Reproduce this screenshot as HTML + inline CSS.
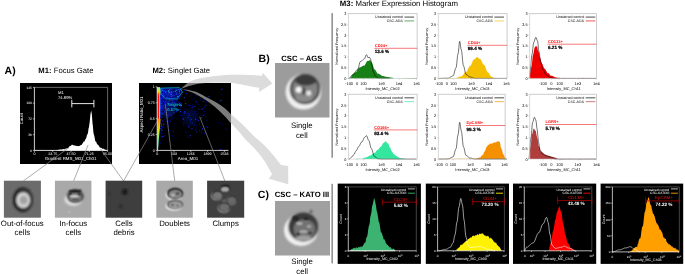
<!DOCTYPE html>
<html><head><meta charset="utf-8"><style>
html,body{margin:0;padding:0;background:#fff;}
body{width:685px;height:274px;overflow:hidden;}
svg{display:block;font-family:"Liberation Sans", Arial, sans-serif;text-rendering:geometricPrecision;}
</style></head><body>
<svg width="685" height="274" viewBox="0 0 685 274">
<defs><filter id="b1" x="-20%" y="-20%" width="140%" height="140%"><feGaussianBlur stdDeviation="1"/></filter><filter id="b05" x="-20%" y="-20%" width="140%" height="140%"><feGaussianBlur stdDeviation="0.5"/></filter><filter id="b065" x="-30%" y="-30%" width="160%" height="160%"><feGaussianBlur stdDeviation="0.65"/></filter><filter id="cm" x="-30%" y="-30%" width="160%" height="160%"><feConvolveMatrix order="3" kernelMatrix="1 2 1 2 4 2 1 2 1" divisor="16" edgeMode="none"/></filter><filter id="b08" x="-30%" y="-30%" width="160%" height="160%"><feGaussianBlur stdDeviation="0.85"/></filter><filter id="b2" x="-30%" y="-30%" width="160%" height="160%"><feGaussianBlur stdDeviation="2"/></filter><radialGradient id="oof" cx="0.5" cy="0.5" r="0.5"><stop offset="0" stop-color="#c8c8c8"/><stop offset="0.45" stop-color="#d6d6d6"/><stop offset="0.62" stop-color="#9a9a9a"/><stop offset="0.78" stop-color="#262626"/><stop offset="0.9" stop-color="#404040"/><stop offset="1" stop-color="#6b6b6b"/></radialGradient><clipPath id="cB"><rect x="275" y="63" width="54.5" height="54.5"/></clipPath><clipPath id="cC"><rect x="275" y="201" width="55" height="54.5"/></clipPath></defs>
<text x="4.60" y="73.80" font-size="10.5" text-anchor="start" font-weight="bold" fill="#000" >A)</text>
<text x="38.3" y="73.1" font-size="7.7"><tspan font-weight="bold">M1:</tspan> Focus Gate</text>
<text x="152.4" y="73.1" font-size="7.7"><tspan font-weight="bold">M2:</tspan> Singlet Gate</text>
<rect x="20.00" y="83.00" width="92.00" height="81.00" fill="#000" />
<line x1="34.40" y1="87.40" x2="107.60" y2="87.40" stroke="#aaa" stroke-width="0.6" />
<line x1="107.60" y1="87.40" x2="107.60" y2="150.40" stroke="#aaa" stroke-width="0.6" />
<line x1="34.40" y1="87.40" x2="34.40" y2="150.40" stroke="#fff" stroke-width="0.8" />
<line x1="34.40" y1="150.40" x2="107.60" y2="150.40" stroke="#fff" stroke-width="0.8" />
<line x1="32.90" y1="87.40" x2="34.40" y2="87.40" stroke="#fff" stroke-width="0.6" />
<text x="31.90" y="88.60" font-size="3.3" text-anchor="end" fill="#fff" >145</text>
<line x1="32.90" y1="103.20" x2="34.40" y2="103.20" stroke="#fff" stroke-width="0.6" />
<text x="31.90" y="104.40" font-size="3.3" text-anchor="end" fill="#fff" >109</text>
<line x1="32.90" y1="118.90" x2="34.40" y2="118.90" stroke="#fff" stroke-width="0.6" />
<text x="31.90" y="120.10" font-size="3.3" text-anchor="end" fill="#fff" >72</text>
<line x1="32.90" y1="134.70" x2="34.40" y2="134.70" stroke="#fff" stroke-width="0.6" />
<text x="31.90" y="135.90" font-size="3.3" text-anchor="end" fill="#fff" >36</text>
<line x1="32.90" y1="150.40" x2="34.40" y2="150.40" stroke="#fff" stroke-width="0.6" />
<text x="31.90" y="151.60" font-size="3.3" text-anchor="end" fill="#fff" >0</text>
<line x1="34.40" y1="150.40" x2="34.40" y2="151.90" stroke="#fff" stroke-width="0.6" />
<text x="34.40" y="155.40" font-size="3.6" text-anchor="middle" fill="#fff" >0</text>
<line x1="52.70" y1="150.40" x2="52.70" y2="151.90" stroke="#fff" stroke-width="0.6" />
<text x="52.70" y="155.40" font-size="3.6" text-anchor="middle" fill="#fff" >23.75</text>
<line x1="71.00" y1="150.40" x2="71.00" y2="151.90" stroke="#fff" stroke-width="0.6" />
<text x="71.00" y="155.40" font-size="3.6" text-anchor="middle" fill="#fff" >47.50</text>
<line x1="89.30" y1="150.40" x2="89.30" y2="151.90" stroke="#fff" stroke-width="0.6" />
<text x="89.30" y="155.40" font-size="3.6" text-anchor="middle" fill="#fff" >71.25</text>
<line x1="107.60" y1="150.40" x2="107.60" y2="151.90" stroke="#fff" stroke-width="0.6" />
<text x="107.60" y="155.40" font-size="3.6" text-anchor="middle" fill="#fff" >95.00</text>
<text x="70.50" y="159.60" font-size="4.4" text-anchor="middle" fill="#fff" >Gradient RMS_M01_Ch01</text>
<text x="23.00" y="118.60" font-size="4.2" text-anchor="middle" fill="#fff" transform="rotate(-90 23.0 118.6)">Count</text>
<polygon points="34.40,150.40 34.40,150.22 34.80,150.43 35.21,150.31 35.61,150.47 36.02,150.48 36.42,150.09 36.82,150.05 37.23,150.63 37.63,150.22 38.04,150.20 38.44,150.73 38.84,150.36 39.25,150.61 39.65,150.35 40.05,150.46 40.46,150.12 40.86,150.45 41.27,150.61 41.67,150.36 42.07,150.51 42.48,150.45 42.88,150.02 43.29,150.50 43.69,150.38 44.09,150.17 44.50,149.97 44.90,150.55 45.31,150.27 45.71,150.44 46.11,150.54 46.52,150.42 46.92,150.56 47.33,150.19 47.73,150.47 48.13,150.21 48.54,150.55 48.94,150.50 49.35,149.95 49.75,149.98 50.15,150.03 50.56,150.55 50.96,150.17 51.36,150.30 51.77,150.07 52.17,150.21 52.58,150.13 52.98,150.10 53.38,150.26 53.79,150.26 54.19,150.48 54.60,150.33 55.00,150.50 55.42,150.44 55.83,150.50 56.25,150.23 56.67,149.81 57.08,150.23 57.50,150.23 57.92,150.11 58.33,149.80 58.75,149.84 59.17,149.44 59.58,149.84 60.00,149.65 60.40,149.44 60.80,149.26 61.20,149.77 61.60,149.80 62.00,149.11 62.40,149.55 62.80,149.22 63.20,148.99 63.60,149.07 64.00,149.39 64.42,149.42 64.84,148.74 65.27,148.98 65.69,148.39 66.11,148.65 66.53,148.18 66.96,148.41 67.38,148.37 67.80,148.00 68.24,148.18 68.68,147.24 69.12,146.53 69.56,146.44 70.00,145.87 70.40,145.89 70.80,145.79 71.20,145.58 71.60,144.91 72.00,144.57 72.40,145.06 72.83,144.72 73.27,145.32 73.70,145.48 74.13,145.31 74.57,145.52 75.00,145.61 75.42,145.72 75.84,145.73 76.27,145.77 76.69,145.89 77.11,146.20 77.53,145.98 77.96,145.99 78.38,146.24 78.80,145.92 79.24,145.87 79.68,146.12 80.12,145.53 80.56,145.32 81.00,144.86 81.40,145.00 81.80,144.71 82.20,143.72 82.60,143.43 83.00,142.73 83.40,141.73 83.80,141.73 84.20,141.48 84.65,141.19 85.10,139.90 85.55,139.08 86.00,138.67 86.50,137.09 87.00,134.97 87.50,134.32 88.00,132.72 88.50,128.63 89.00,126.97 89.70,122.06 90.50,113.87 91.20,110.40 91.90,114.87 92.50,123.21 92.90,126.09 93.30,131.34 93.70,134.11 94.17,135.46 94.65,137.52 95.12,140.48 95.60,141.66 96.00,141.60 96.40,142.18 96.80,143.46 97.20,143.94 97.60,144.55 98.00,144.95 98.40,145.37 98.80,145.55 99.20,146.45 99.60,147.05 100.00,147.63 100.42,147.44 100.83,147.95 101.25,147.77 101.67,148.19 102.08,148.62 102.50,148.87 102.92,148.63 103.33,148.66 103.75,148.83 104.17,149.37 104.58,149.32 105.00,149.81 105.43,149.88 105.87,149.53 106.30,149.75 106.73,150.27 107.17,150.26 107.60,150.41 107.60,150.40" fill="#fff" stroke="none" stroke-width="0.6" />
<line x1="71.80" y1="103.60" x2="93.90" y2="103.60" stroke="#fff" stroke-width="0.9" />
<line x1="71.80" y1="99.90" x2="71.80" y2="107.40" stroke="#fff" stroke-width="0.9" />
<line x1="93.90" y1="99.90" x2="93.90" y2="107.40" stroke="#fff" stroke-width="0.9" />
<text x="58.00" y="93.60" font-size="4.2" text-anchor="start" fill="#fff" >M1</text>
<text x="58.00" y="98.60" font-size="4.2" text-anchor="start" fill="#fff" >74.89%</text>
<rect x="139.00" y="83.00" width="92.00" height="81.00" fill="#000" />
<g filter="url(#b2)"><ellipse cx="168" cy="103" rx="9" ry="15" fill="#0c1ca8" opacity="0.55"/><ellipse cx="190" cy="117" rx="9" ry="9" fill="#0a1890" opacity="0.3"/></g>
<rect x="172.5" y="93.3" width="0.9" height="0.9" fill="#000090"/><rect x="179.6" y="96.2" width="0.9" height="0.9" fill="#0008d0"/><rect x="164.3" y="103.4" width="0.9" height="0.9" fill="#2040ff"/><rect x="164.3" y="93.9" width="0.9" height="0.9" fill="#000090"/><rect x="160.6" y="93.8" width="0.9" height="0.9" fill="#2040ff"/><rect x="168.8" y="102.1" width="0.9" height="0.9" fill="#000090"/><rect x="174.6" y="92.5" width="0.9" height="0.9" fill="#0018c0"/><rect x="168.0" y="103.8" width="0.9" height="0.9" fill="#0018c0"/><rect x="161.7" y="89.5" width="0.9" height="0.9" fill="#0008d0"/><rect x="174.5" y="102.2" width="0.9" height="0.9" fill="#1028f0"/><rect x="178.7" y="97.8" width="0.9" height="0.9" fill="#0018c0"/><rect x="159.9" y="99.6" width="0.9" height="0.9" fill="#0000b4"/><rect x="165.4" y="101.2" width="0.9" height="0.9" fill="#1028f0"/><rect x="170.6" y="97.8" width="0.9" height="0.9" fill="#0000b4"/><rect x="161.5" y="99.8" width="0.9" height="0.9" fill="#0008d0"/><rect x="161.7" y="88.3" width="0.9" height="0.9" fill="#0018c0"/><rect x="160.1" y="102.1" width="0.9" height="0.9" fill="#1028f0"/><rect x="180.0" y="111.1" width="0.9" height="0.9" fill="#2040ff"/><rect x="166.5" y="88.0" width="0.9" height="0.9" fill="#0000b4"/><rect x="189.3" y="95.4" width="0.9" height="0.9" fill="#000090"/><rect x="171.4" y="96.7" width="0.9" height="0.9" fill="#0008d0"/><rect x="160.6" y="98.9" width="0.9" height="0.9" fill="#0000b4"/><rect x="159.7" y="90.3" width="0.9" height="0.9" fill="#000090"/><rect x="159.3" y="95.0" width="0.9" height="0.9" fill="#0008d0"/><rect x="159.4" y="90.0" width="0.9" height="0.9" fill="#000090"/><rect x="161.0" y="96.4" width="0.9" height="0.9" fill="#0018c0"/><rect x="164.0" y="103.5" width="0.9" height="0.9" fill="#2040ff"/><rect x="160.4" y="102.5" width="0.9" height="0.9" fill="#000090"/><rect x="167.6" y="97.8" width="0.9" height="0.9" fill="#0008d0"/><rect x="181.0" y="88.1" width="0.9" height="0.9" fill="#0018c0"/><rect x="166.6" y="115.4" width="0.9" height="0.9" fill="#0008d0"/><rect x="173.0" y="130.8" width="0.9" height="0.9" fill="#0018c0"/><rect x="162.2" y="93.0" width="0.9" height="0.9" fill="#0008d0"/><rect x="160.9" y="98.5" width="0.9" height="0.9" fill="#0018c0"/><rect x="163.4" y="98.3" width="0.9" height="0.9" fill="#0000b4"/><rect x="165.7" y="92.3" width="0.9" height="0.9" fill="#2040ff"/><rect x="159.7" y="107.0" width="0.9" height="0.9" fill="#1028f0"/><rect x="163.1" y="93.1" width="0.9" height="0.9" fill="#0018c0"/><rect x="173.3" y="89.9" width="0.9" height="0.9" fill="#000090"/><rect x="161.6" y="95.4" width="0.9" height="0.9" fill="#0008d0"/><rect x="162.4" y="97.7" width="0.9" height="0.9" fill="#0008d0"/><rect x="167.4" y="104.5" width="0.9" height="0.9" fill="#0018c0"/><rect x="167.9" y="120.4" width="0.9" height="0.9" fill="#000090"/><rect x="168.2" y="96.9" width="0.9" height="0.9" fill="#0000b4"/><rect x="169.2" y="98.6" width="0.9" height="0.9" fill="#1028f0"/><rect x="160.3" y="109.8" width="0.9" height="0.9" fill="#1028f0"/><rect x="180.0" y="102.5" width="0.9" height="0.9" fill="#000090"/><rect x="160.8" y="96.4" width="0.9" height="0.9" fill="#2040ff"/><rect x="164.7" y="89.0" width="0.9" height="0.9" fill="#000090"/><rect x="179.0" y="98.0" width="0.9" height="0.9" fill="#0018c0"/><rect x="165.8" y="92.3" width="0.9" height="0.9" fill="#0008d0"/><rect x="159.0" y="93.3" width="0.9" height="0.9" fill="#000090"/><rect x="162.7" y="89.7" width="0.9" height="0.9" fill="#0008d0"/><rect x="161.7" y="104.9" width="0.9" height="0.9" fill="#0008d0"/><rect x="164.0" y="92.2" width="0.9" height="0.9" fill="#000090"/><rect x="175.0" y="90.5" width="0.9" height="0.9" fill="#2040ff"/><rect x="185.4" y="92.7" width="0.9" height="0.9" fill="#0018c0"/><rect x="161.0" y="88.6" width="0.9" height="0.9" fill="#1028f0"/><rect x="167.6" y="122.2" width="0.9" height="0.9" fill="#0000b4"/><rect x="162.5" y="91.2" width="0.9" height="0.9" fill="#0000b4"/><rect x="160.2" y="100.2" width="0.9" height="0.9" fill="#0000b4"/><rect x="171.3" y="96.0" width="0.9" height="0.9" fill="#2040ff"/><rect x="183.8" y="97.1" width="0.9" height="0.9" fill="#2040ff"/><rect x="164.6" y="111.8" width="0.9" height="0.9" fill="#1028f0"/><rect x="169.0" y="105.1" width="0.9" height="0.9" fill="#0000b4"/><rect x="166.9" y="98.5" width="0.9" height="0.9" fill="#0000b4"/><rect x="168.4" y="101.8" width="0.9" height="0.9" fill="#0018c0"/><rect x="164.6" y="99.6" width="0.9" height="0.9" fill="#0000b4"/><rect x="162.5" y="91.6" width="0.9" height="0.9" fill="#2040ff"/><rect x="165.3" y="95.2" width="0.9" height="0.9" fill="#000090"/><rect x="160.5" y="101.8" width="0.9" height="0.9" fill="#2040ff"/><rect x="163.2" y="102.5" width="0.9" height="0.9" fill="#000090"/><rect x="161.4" y="93.0" width="0.9" height="0.9" fill="#0018c0"/><rect x="173.7" y="91.5" width="0.9" height="0.9" fill="#000090"/><rect x="186.4" y="92.9" width="0.9" height="0.9" fill="#0000b4"/><rect x="174.2" y="88.3" width="0.9" height="0.9" fill="#000090"/><rect x="159.1" y="90.1" width="0.9" height="0.9" fill="#1028f0"/><rect x="168.4" y="103.1" width="0.9" height="0.9" fill="#0018c0"/><rect x="170.6" y="114.6" width="0.9" height="0.9" fill="#2040ff"/><rect x="170.7" y="95.0" width="0.9" height="0.9" fill="#0008d0"/><rect x="166.6" y="106.4" width="0.9" height="0.9" fill="#0008d0"/><rect x="172.2" y="106.9" width="0.9" height="0.9" fill="#0008d0"/><rect x="166.9" y="97.4" width="0.9" height="0.9" fill="#0018c0"/><rect x="165.6" y="92.6" width="0.9" height="0.9" fill="#0008d0"/><rect x="180.0" y="88.6" width="0.9" height="0.9" fill="#0000b4"/><rect x="165.5" y="121.3" width="0.9" height="0.9" fill="#1028f0"/><rect x="161.3" y="94.2" width="0.9" height="0.9" fill="#000090"/><rect x="160.2" y="97.6" width="0.9" height="0.9" fill="#000090"/><rect x="168.9" y="99.4" width="0.9" height="0.9" fill="#2040ff"/><rect x="167.4" y="112.5" width="0.9" height="0.9" fill="#0018c0"/><rect x="163.1" y="89.6" width="0.9" height="0.9" fill="#0000b4"/><rect x="161.6" y="106.9" width="0.9" height="0.9" fill="#2040ff"/><rect x="162.7" y="105.6" width="0.9" height="0.9" fill="#1028f0"/><rect x="167.4" y="102.5" width="0.9" height="0.9" fill="#2040ff"/><rect x="167.0" y="99.6" width="0.9" height="0.9" fill="#0000b4"/><rect x="160.0" y="98.9" width="0.9" height="0.9" fill="#0008d0"/><rect x="168.2" y="126.5" width="0.9" height="0.9" fill="#0000b4"/><rect x="173.6" y="94.5" width="0.9" height="0.9" fill="#2040ff"/><rect x="165.7" y="98.3" width="0.9" height="0.9" fill="#0000b4"/><rect x="161.9" y="96.6" width="0.9" height="0.9" fill="#000090"/><rect x="159.7" y="110.1" width="0.9" height="0.9" fill="#000090"/><rect x="161.9" y="88.8" width="0.9" height="0.9" fill="#0008d0"/><rect x="160.4" y="100.8" width="0.9" height="0.9" fill="#2040ff"/><rect x="171.2" y="93.4" width="0.9" height="0.9" fill="#0008d0"/><rect x="174.3" y="103.4" width="0.9" height="0.9" fill="#0008d0"/><rect x="180.8" y="104.9" width="0.9" height="0.9" fill="#2040ff"/><rect x="168.2" y="97.9" width="0.9" height="0.9" fill="#0008d0"/><rect x="176.0" y="109.8" width="0.9" height="0.9" fill="#000090"/><rect x="174.2" y="94.3" width="0.9" height="0.9" fill="#0018c0"/><rect x="166.7" y="120.2" width="0.9" height="0.9" fill="#000090"/><rect x="173.4" y="123.3" width="0.9" height="0.9" fill="#0000b4"/><rect x="162.6" y="113.5" width="0.9" height="0.9" fill="#2040ff"/><rect x="164.0" y="91.3" width="0.9" height="0.9" fill="#0008d0"/><rect x="184.0" y="111.1" width="0.9" height="0.9" fill="#1028f0"/><rect x="177.9" y="93.7" width="0.9" height="0.9" fill="#1028f0"/><rect x="160.3" y="110.2" width="0.9" height="0.9" fill="#0000b4"/><rect x="161.7" y="92.7" width="0.9" height="0.9" fill="#000090"/><rect x="165.3" y="100.3" width="0.9" height="0.9" fill="#1028f0"/><rect x="161.6" y="88.3" width="0.9" height="0.9" fill="#0000b4"/><rect x="161.7" y="89.6" width="0.9" height="0.9" fill="#0018c0"/><rect x="168.9" y="109.2" width="0.9" height="0.9" fill="#0008d0"/><rect x="204.0" y="98.7" width="0.9" height="0.9" fill="#2040ff"/><rect x="175.4" y="90.4" width="0.9" height="0.9" fill="#000090"/><rect x="171.1" y="93.5" width="0.9" height="0.9" fill="#2040ff"/><rect x="165.7" y="93.1" width="0.9" height="0.9" fill="#0018c0"/><rect x="178.3" y="97.5" width="0.9" height="0.9" fill="#0018c0"/><rect x="167.6" y="101.0" width="0.9" height="0.9" fill="#0018c0"/><rect x="159.7" y="108.9" width="0.9" height="0.9" fill="#0018c0"/><rect x="164.6" y="114.4" width="0.9" height="0.9" fill="#0018c0"/><rect x="173.2" y="90.8" width="0.9" height="0.9" fill="#0008d0"/><rect x="163.6" y="91.7" width="0.9" height="0.9" fill="#0000b4"/><rect x="161.1" y="90.0" width="0.9" height="0.9" fill="#0000b4"/><rect x="170.1" y="89.4" width="0.9" height="0.9" fill="#0018c0"/><rect x="162.5" y="92.3" width="0.9" height="0.9" fill="#0008d0"/><rect x="171.5" y="95.0" width="0.9" height="0.9" fill="#000090"/><rect x="176.4" y="100.0" width="0.9" height="0.9" fill="#000090"/><rect x="160.5" y="103.7" width="0.9" height="0.9" fill="#0008d0"/><rect x="171.6" y="113.4" width="0.9" height="0.9" fill="#000090"/><rect x="164.2" y="89.0" width="0.9" height="0.9" fill="#000090"/><rect x="177.5" y="109.5" width="0.9" height="0.9" fill="#0008d0"/><rect x="168.0" y="124.8" width="0.9" height="0.9" fill="#0000b4"/><rect x="161.7" y="97.4" width="0.9" height="0.9" fill="#2040ff"/><rect x="162.7" y="109.9" width="0.9" height="0.9" fill="#0008d0"/><rect x="162.8" y="92.5" width="0.9" height="0.9" fill="#2040ff"/><rect x="177.7" y="101.5" width="0.9" height="0.9" fill="#0018c0"/><rect x="159.0" y="97.3" width="0.9" height="0.9" fill="#0018c0"/><rect x="160.7" y="90.1" width="0.9" height="0.9" fill="#2040ff"/><rect x="170.6" y="96.9" width="0.9" height="0.9" fill="#0008d0"/><rect x="180.3" y="94.6" width="0.9" height="0.9" fill="#0018c0"/><rect x="167.7" y="101.1" width="0.9" height="0.9" fill="#0018c0"/><rect x="175.6" y="105.8" width="0.9" height="0.9" fill="#0008d0"/><rect x="172.3" y="98.0" width="0.9" height="0.9" fill="#1028f0"/><rect x="166.8" y="95.0" width="0.9" height="0.9" fill="#1028f0"/><rect x="164.6" y="93.8" width="0.9" height="0.9" fill="#0008d0"/><rect x="163.5" y="92.9" width="0.9" height="0.9" fill="#0008d0"/><rect x="162.2" y="92.4" width="0.9" height="0.9" fill="#000090"/><rect x="176.0" y="103.1" width="0.9" height="0.9" fill="#000090"/><rect x="175.6" y="93.9" width="0.9" height="0.9" fill="#0008d0"/><rect x="172.7" y="100.2" width="0.9" height="0.9" fill="#0000b4"/><rect x="170.8" y="98.3" width="0.9" height="0.9" fill="#1028f0"/><rect x="183.5" y="107.4" width="0.9" height="0.9" fill="#0000b4"/><rect x="163.4" y="107.1" width="0.9" height="0.9" fill="#1028f0"/><rect x="175.7" y="88.4" width="0.9" height="0.9" fill="#0008d0"/><rect x="163.1" y="103.2" width="0.9" height="0.9" fill="#0000b4"/><rect x="172.5" y="92.1" width="0.9" height="0.9" fill="#0018c0"/><rect x="169.4" y="97.0" width="0.9" height="0.9" fill="#0008d0"/><rect x="162.0" y="96.7" width="0.9" height="0.9" fill="#0008d0"/><rect x="184.1" y="90.0" width="0.9" height="0.9" fill="#0000b4"/><rect x="164.2" y="91.6" width="0.9" height="0.9" fill="#2040ff"/><rect x="177.2" y="93.6" width="0.9" height="0.9" fill="#1028f0"/><rect x="168.0" y="97.3" width="0.9" height="0.9" fill="#1028f0"/><rect x="172.5" y="96.1" width="0.9" height="0.9" fill="#0000b4"/><rect x="161.1" y="91.0" width="0.9" height="0.9" fill="#0008d0"/><rect x="164.1" y="102.0" width="0.9" height="0.9" fill="#2040ff"/><rect x="176.0" y="111.0" width="0.9" height="0.9" fill="#0018c0"/><rect x="165.7" y="102.5" width="0.9" height="0.9" fill="#0000b4"/><rect x="161.1" y="93.3" width="0.9" height="0.9" fill="#2040ff"/><rect x="176.1" y="109.6" width="0.9" height="0.9" fill="#000090"/><rect x="165.5" y="91.9" width="0.9" height="0.9" fill="#0018c0"/><rect x="178.8" y="90.7" width="0.9" height="0.9" fill="#1028f0"/><rect x="160.0" y="94.8" width="0.9" height="0.9" fill="#2040ff"/><rect x="162.5" y="113.3" width="0.9" height="0.9" fill="#000090"/><rect x="165.6" y="97.3" width="0.9" height="0.9" fill="#0018c0"/><rect x="165.4" y="110.5" width="0.9" height="0.9" fill="#0008d0"/><rect x="173.6" y="100.5" width="0.9" height="0.9" fill="#0000b4"/><rect x="161.7" y="99.3" width="0.9" height="0.9" fill="#0000b4"/><rect x="169.3" y="88.9" width="0.9" height="0.9" fill="#2040ff"/><rect x="161.9" y="90.6" width="0.9" height="0.9" fill="#1028f0"/><rect x="174.3" y="95.1" width="0.9" height="0.9" fill="#1028f0"/><rect x="161.4" y="102.0" width="0.9" height="0.9" fill="#0008d0"/><rect x="169.7" y="90.9" width="0.9" height="0.9" fill="#000090"/><rect x="169.7" y="105.0" width="0.9" height="0.9" fill="#000090"/><rect x="161.3" y="88.4" width="0.9" height="0.9" fill="#0018c0"/><rect x="165.3" y="94.5" width="0.9" height="0.9" fill="#000090"/><rect x="161.9" y="90.6" width="0.9" height="0.9" fill="#0008d0"/><rect x="160.0" y="89.7" width="0.9" height="0.9" fill="#1028f0"/><rect x="159.1" y="118.4" width="0.9" height="0.9" fill="#0018c0"/><rect x="170.0" y="91.7" width="0.9" height="0.9" fill="#0018c0"/><rect x="191.7" y="106.9" width="0.9" height="0.9" fill="#2040ff"/><rect x="173.9" y="94.9" width="0.9" height="0.9" fill="#0018c0"/><rect x="174.2" y="101.6" width="0.9" height="0.9" fill="#0000b4"/><rect x="178.6" y="109.6" width="0.9" height="0.9" fill="#000090"/><rect x="165.6" y="89.5" width="0.9" height="0.9" fill="#000090"/><rect x="173.3" y="92.9" width="0.9" height="0.9" fill="#000090"/><rect x="169.8" y="92.9" width="0.9" height="0.9" fill="#0018c0"/><rect x="166.7" y="95.2" width="0.9" height="0.9" fill="#0018c0"/><rect x="162.6" y="107.9" width="0.9" height="0.9" fill="#0018c0"/><rect x="173.7" y="96.9" width="0.9" height="0.9" fill="#2040ff"/><rect x="159.5" y="90.3" width="0.9" height="0.9" fill="#0008d0"/><rect x="172.4" y="98.2" width="0.9" height="0.9" fill="#000090"/><rect x="159.3" y="101.9" width="0.9" height="0.9" fill="#1028f0"/><rect x="159.0" y="92.5" width="0.9" height="0.9" fill="#2040ff"/><rect x="163.0" y="89.9" width="0.9" height="0.9" fill="#0008d0"/><rect x="170.3" y="94.8" width="0.9" height="0.9" fill="#0008d0"/><rect x="163.8" y="89.8" width="0.9" height="0.9" fill="#2040ff"/><rect x="164.2" y="92.2" width="0.9" height="0.9" fill="#0008d0"/><rect x="163.3" y="92.2" width="0.9" height="0.9" fill="#0018c0"/><rect x="163.8" y="91.5" width="0.9" height="0.9" fill="#0000b4"/><rect x="163.0" y="94.4" width="0.9" height="0.9" fill="#1028f0"/><rect x="174.3" y="95.3" width="0.9" height="0.9" fill="#000090"/><rect x="171.7" y="99.9" width="0.9" height="0.9" fill="#2040ff"/><rect x="175.7" y="99.8" width="0.9" height="0.9" fill="#0018c0"/><rect x="161.4" y="95.0" width="0.9" height="0.9" fill="#1028f0"/><rect x="159.8" y="98.3" width="0.9" height="0.9" fill="#0000b4"/><rect x="168.4" y="88.2" width="0.9" height="0.9" fill="#0018c0"/><rect x="166.3" y="97.3" width="0.9" height="0.9" fill="#1028f0"/><rect x="172.6" y="102.3" width="0.9" height="0.9" fill="#2040ff"/><rect x="172.1" y="98.8" width="0.9" height="0.9" fill="#0008d0"/><rect x="162.1" y="97.8" width="0.9" height="0.9" fill="#2040ff"/><rect x="178.5" y="102.5" width="0.9" height="0.9" fill="#0000b4"/><rect x="160.1" y="89.4" width="0.9" height="0.9" fill="#1028f0"/><rect x="172.7" y="96.9" width="0.9" height="0.9" fill="#0000b4"/><rect x="160.5" y="99.1" width="0.9" height="0.9" fill="#0000b4"/><rect x="164.6" y="92.3" width="0.9" height="0.9" fill="#0008d0"/><rect x="166.2" y="97.9" width="0.9" height="0.9" fill="#000090"/><rect x="165.1" y="98.1" width="0.9" height="0.9" fill="#000090"/><rect x="159.7" y="114.7" width="0.9" height="0.9" fill="#0000b4"/><rect x="162.9" y="102.4" width="0.9" height="0.9" fill="#0018c0"/><rect x="168.9" y="108.4" width="0.9" height="0.9" fill="#000090"/><rect x="166.6" y="92.9" width="0.9" height="0.9" fill="#0008d0"/><rect x="169.9" y="103.0" width="0.9" height="0.9" fill="#0018c0"/><rect x="165.3" y="103.7" width="0.9" height="0.9" fill="#2040ff"/><rect x="162.2" y="95.9" width="0.9" height="0.9" fill="#2040ff"/><rect x="162.4" y="92.6" width="0.9" height="0.9" fill="#1028f0"/><rect x="163.0" y="90.8" width="0.9" height="0.9" fill="#0018c0"/><rect x="177.4" y="98.7" width="0.9" height="0.9" fill="#000090"/><rect x="164.7" y="111.1" width="0.9" height="0.9" fill="#0000b4"/><rect x="167.9" y="116.6" width="0.9" height="0.9" fill="#0018c0"/><rect x="167.2" y="93.9" width="0.9" height="0.9" fill="#2040ff"/><rect x="159.9" y="100.4" width="0.9" height="0.9" fill="#0008d0"/><rect x="162.1" y="108.1" width="0.9" height="0.9" fill="#1028f0"/><rect x="162.7" y="93.2" width="0.9" height="0.9" fill="#2040ff"/><rect x="172.8" y="94.8" width="0.9" height="0.9" fill="#2040ff"/><rect x="169.1" y="95.8" width="0.9" height="0.9" fill="#1028f0"/><rect x="166.5" y="90.6" width="0.9" height="0.9" fill="#2040ff"/><rect x="165.6" y="94.5" width="0.9" height="0.9" fill="#1028f0"/><rect x="160.2" y="90.7" width="0.9" height="0.9" fill="#2040ff"/><rect x="167.6" y="96.5" width="0.9" height="0.9" fill="#0008d0"/><rect x="159.7" y="101.4" width="0.9" height="0.9" fill="#000090"/><rect x="179.3" y="94.7" width="0.9" height="0.9" fill="#0018c0"/><rect x="161.1" y="93.4" width="0.9" height="0.9" fill="#000090"/><rect x="165.6" y="95.7" width="0.9" height="0.9" fill="#0000b4"/><rect x="159.7" y="92.7" width="0.9" height="0.9" fill="#0008d0"/><rect x="185.1" y="103.0" width="0.9" height="0.9" fill="#2040ff"/><rect x="165.3" y="100.3" width="0.9" height="0.9" fill="#0018c0"/><rect x="177.5" y="95.2" width="0.9" height="0.9" fill="#0000b4"/><rect x="163.5" y="97.7" width="0.9" height="0.9" fill="#0000b4"/><rect x="162.7" y="91.5" width="0.9" height="0.9" fill="#2040ff"/><rect x="161.8" y="93.2" width="0.9" height="0.9" fill="#2040ff"/><rect x="174.3" y="98.4" width="0.9" height="0.9" fill="#000090"/><rect x="160.3" y="104.9" width="0.9" height="0.9" fill="#000090"/><rect x="166.9" y="95.8" width="0.9" height="0.9" fill="#1028f0"/><rect x="165.0" y="102.4" width="0.9" height="0.9" fill="#0018c0"/><rect x="160.4" y="93.1" width="0.9" height="0.9" fill="#0018c0"/><rect x="168.7" y="95.3" width="0.9" height="0.9" fill="#2040ff"/><rect x="159.6" y="89.0" width="0.9" height="0.9" fill="#000090"/><rect x="170.6" y="113.4" width="0.9" height="0.9" fill="#0018c0"/><rect x="167.5" y="101.2" width="0.9" height="0.9" fill="#2040ff"/><rect x="164.3" y="88.4" width="0.9" height="0.9" fill="#000090"/><rect x="166.1" y="93.3" width="0.9" height="0.9" fill="#0008d0"/><rect x="169.7" y="88.8" width="0.9" height="0.9" fill="#0008d0"/><rect x="163.7" y="100.5" width="0.9" height="0.9" fill="#0018c0"/><rect x="166.6" y="123.7" width="0.9" height="0.9" fill="#0000b4"/><rect x="176.5" y="92.0" width="0.9" height="0.9" fill="#1028f0"/><rect x="170.4" y="107.4" width="0.9" height="0.9" fill="#0008d0"/><rect x="174.7" y="100.3" width="0.9" height="0.9" fill="#0000b4"/><rect x="179.8" y="103.5" width="0.9" height="0.9" fill="#0000b4"/><rect x="161.8" y="96.6" width="0.9" height="0.9" fill="#1028f0"/><rect x="160.6" y="98.0" width="0.9" height="0.9" fill="#2040ff"/><rect x="171.9" y="90.9" width="0.9" height="0.9" fill="#000090"/><rect x="162.5" y="98.4" width="0.9" height="0.9" fill="#0008d0"/><rect x="180.9" y="105.5" width="0.9" height="0.9" fill="#2040ff"/><rect x="178.4" y="95.7" width="0.9" height="0.9" fill="#000090"/><rect x="166.7" y="100.8" width="0.9" height="0.9" fill="#000090"/><rect x="167.6" y="94.6" width="0.9" height="0.9" fill="#0018c0"/><rect x="159.7" y="94.1" width="0.9" height="0.9" fill="#0008d0"/><rect x="165.2" y="93.8" width="0.9" height="0.9" fill="#0008d0"/><rect x="162.4" y="101.1" width="0.9" height="0.9" fill="#0018c0"/><rect x="164.3" y="111.2" width="0.9" height="0.9" fill="#0000b4"/><rect x="163.4" y="96.6" width="0.9" height="0.9" fill="#0000b4"/><rect x="205.7" y="100.6" width="0.9" height="0.9" fill="#000090"/><rect x="196.1" y="100.9" width="0.9" height="0.9" fill="#0018c0"/><rect x="198.6" y="108.7" width="0.9" height="0.9" fill="#1028f0"/><rect x="204.1" y="133.2" width="0.9" height="0.9" fill="#0018c0"/><rect x="202.1" y="128.1" width="0.9" height="0.9" fill="#0018c0"/><rect x="190.8" y="128.3" width="0.9" height="0.9" fill="#0008d0"/><rect x="186.9" y="113.3" width="0.9" height="0.9" fill="#0008d0"/><rect x="199.6" y="98.6" width="0.9" height="0.9" fill="#0008d0"/><rect x="198.2" y="119.9" width="0.9" height="0.9" fill="#2040ff"/><rect x="173.4" y="112.3" width="0.9" height="0.9" fill="#2040ff"/><rect x="170.0" y="120.9" width="0.9" height="0.9" fill="#0018c0"/><rect x="181.7" y="112.8" width="0.9" height="0.9" fill="#0000b4"/><rect x="194.3" y="105.9" width="0.9" height="0.9" fill="#2040ff"/><rect x="206.2" y="126.1" width="0.9" height="0.9" fill="#0008d0"/><rect x="201.0" y="118.4" width="0.9" height="0.9" fill="#000090"/><rect x="201.3" y="131.8" width="0.9" height="0.9" fill="#1028f0"/><rect x="188.3" y="125.3" width="0.9" height="0.9" fill="#0018c0"/><rect x="188.5" y="126.5" width="0.9" height="0.9" fill="#2040ff"/><rect x="195.2" y="117.6" width="0.9" height="0.9" fill="#0008d0"/><rect x="199.1" y="122.2" width="0.9" height="0.9" fill="#000090"/><rect x="191.7" y="98.5" width="0.9" height="0.9" fill="#0000b4"/><rect x="191.2" y="114.7" width="0.9" height="0.9" fill="#000090"/><rect x="189.6" y="105.0" width="0.9" height="0.9" fill="#1028f0"/><rect x="182.8" y="111.7" width="0.9" height="0.9" fill="#0000b4"/><rect x="202.7" y="100.8" width="0.9" height="0.9" fill="#2040ff"/><rect x="195.3" y="129.3" width="0.9" height="0.9" fill="#1028f0"/><rect x="177.3" y="99.1" width="0.9" height="0.9" fill="#2040ff"/><rect x="189.6" y="124.7" width="0.9" height="0.9" fill="#000090"/><rect x="188.4" y="114.5" width="0.9" height="0.9" fill="#0008d0"/><rect x="196.5" y="131.4" width="0.9" height="0.9" fill="#1028f0"/><rect x="189.4" y="123.4" width="0.9" height="0.9" fill="#000090"/><rect x="190.7" y="107.1" width="0.9" height="0.9" fill="#000090"/><rect x="196.1" y="119.0" width="0.9" height="0.9" fill="#0000b4"/><rect x="200.6" y="126.4" width="0.9" height="0.9" fill="#0008d0"/><rect x="195.9" y="125.2" width="0.9" height="0.9" fill="#000090"/><rect x="188.7" y="113.6" width="0.9" height="0.9" fill="#0008d0"/><rect x="218.1" y="122.0" width="0.9" height="0.9" fill="#000090"/><rect x="189.1" y="118.1" width="0.9" height="0.9" fill="#000090"/><rect x="196.4" y="113.6" width="0.9" height="0.9" fill="#0008d0"/><rect x="193.8" y="97.6" width="0.9" height="0.9" fill="#000090"/><rect x="171.8" y="118.4" width="0.9" height="0.9" fill="#0018c0"/><rect x="201.1" y="117.0" width="0.9" height="0.9" fill="#2040ff"/><rect x="185.5" y="132.1" width="0.9" height="0.9" fill="#0008d0"/><rect x="185.4" y="104.4" width="0.9" height="0.9" fill="#0000b4"/><rect x="191.6" y="122.5" width="0.9" height="0.9" fill="#1028f0"/><rect x="189.5" y="112.2" width="0.9" height="0.9" fill="#000090"/><rect x="194.3" y="124.6" width="0.9" height="0.9" fill="#1028f0"/><rect x="197.6" y="103.8" width="0.9" height="0.9" fill="#0008d0"/><rect x="191.7" y="128.4" width="0.9" height="0.9" fill="#1028f0"/><rect x="184.0" y="113.2" width="0.9" height="0.9" fill="#0018c0"/><rect x="180.3" y="114.9" width="0.9" height="0.9" fill="#0008d0"/><rect x="202.8" y="115.0" width="0.9" height="0.9" fill="#2040ff"/><rect x="186.3" y="93.4" width="0.9" height="0.9" fill="#0018c0"/><rect x="203.9" y="111.2" width="0.9" height="0.9" fill="#0008d0"/><rect x="192.8" y="110.7" width="0.9" height="0.9" fill="#000090"/><rect x="179.7" y="108.9" width="0.9" height="0.9" fill="#1028f0"/><rect x="207.3" y="127.1" width="0.9" height="0.9" fill="#1028f0"/><rect x="187.5" y="117.2" width="0.9" height="0.9" fill="#2040ff"/><rect x="204.8" y="132.3" width="0.9" height="0.9" fill="#0018c0"/><rect x="188.9" y="115.0" width="0.9" height="0.9" fill="#1028f0"/><rect x="199.3" y="130.4" width="0.9" height="0.9" fill="#1028f0"/><rect x="188.3" y="113.0" width="0.9" height="0.9" fill="#0000b4"/><rect x="187.4" y="136.7" width="0.9" height="0.9" fill="#0008d0"/><rect x="192.4" y="106.5" width="0.9" height="0.9" fill="#0008d0"/><rect x="196.5" y="127.6" width="0.9" height="0.9" fill="#0000b4"/><rect x="183.2" y="118.9" width="0.9" height="0.9" fill="#2040ff"/><rect x="201.8" y="128.8" width="0.9" height="0.9" fill="#2040ff"/><rect x="202.4" y="108.3" width="0.9" height="0.9" fill="#2040ff"/><rect x="192.5" y="114.3" width="0.9" height="0.9" fill="#0008d0"/><rect x="190.0" y="117.4" width="0.9" height="0.9" fill="#0018c0"/><rect x="183.2" y="124.5" width="0.9" height="0.9" fill="#0008d0"/><rect x="189.5" y="120.5" width="0.9" height="0.9" fill="#0008d0"/><rect x="184.6" y="112.3" width="0.9" height="0.9" fill="#2040ff"/><rect x="195.0" y="100.4" width="0.9" height="0.9" fill="#0008d0"/><rect x="183.3" y="122.7" width="0.9" height="0.9" fill="#0000b4"/><rect x="182.9" y="117.9" width="0.9" height="0.9" fill="#0018c0"/><rect x="201.9" y="109.3" width="0.9" height="0.9" fill="#000090"/><rect x="192.1" y="104.5" width="0.9" height="0.9" fill="#000090"/><rect x="201.3" y="99.3" width="0.9" height="0.9" fill="#000090"/><rect x="194.0" y="111.5" width="0.9" height="0.9" fill="#0000b4"/><rect x="201.1" y="109.1" width="0.9" height="0.9" fill="#0018c0"/><rect x="182.7" y="114.6" width="0.9" height="0.9" fill="#0000b4"/><rect x="190.7" y="119.0" width="0.9" height="0.9" fill="#2040ff"/><rect x="184.9" y="108.9" width="0.9" height="0.9" fill="#000090"/><rect x="179.7" y="106.4" width="0.9" height="0.9" fill="#1028f0"/><rect x="205.6" y="102.2" width="0.9" height="0.9" fill="#0008d0"/><rect x="199.0" y="123.7" width="0.9" height="0.9" fill="#0018c0"/><rect x="208.9" y="96.8" width="0.9" height="0.9" fill="#000090"/><rect x="188.3" y="104.5" width="0.9" height="0.9" fill="#0008d0"/><rect x="179.4" y="111.9" width="0.9" height="0.9" fill="#0008d0"/><rect x="219.8" y="149.0" width="0.9" height="0.9" fill="#2040ff"/><rect x="225.7" y="128.6" width="0.9" height="0.9" fill="#0018c0"/><rect x="188.7" y="137.1" width="0.9" height="0.9" fill="#0008d0"/><rect x="204.2" y="113.7" width="0.9" height="0.9" fill="#0000b4"/><rect x="221.4" y="94.0" width="0.9" height="0.9" fill="#0008d0"/><rect x="168.4" y="120.8" width="0.9" height="0.9" fill="#000090"/><rect x="160.0" y="102.9" width="0.9" height="0.9" fill="#1028f0"/><rect x="161.6" y="98.5" width="0.9" height="0.9" fill="#000090"/><rect x="220.9" y="137.7" width="0.9" height="0.9" fill="#000090"/><rect x="169.6" y="130.2" width="0.9" height="0.9" fill="#0008d0"/><rect x="163.1" y="89.9" width="0.9" height="0.9" fill="#1028f0"/><rect x="180.9" y="118.4" width="0.9" height="0.9" fill="#000090"/><rect x="219.8" y="100.4" width="0.9" height="0.9" fill="#2040ff"/><rect x="221.0" y="99.9" width="0.9" height="0.9" fill="#1028f0"/><rect x="221.2" y="89.0" width="0.9" height="0.9" fill="#2040ff"/><rect x="219.8" y="148.7" width="0.9" height="0.9" fill="#0008d0"/><rect x="196.3" y="102.4" width="0.9" height="0.9" fill="#0000b4"/><rect x="204.2" y="106.7" width="0.9" height="0.9" fill="#1028f0"/><rect x="225.4" y="104.7" width="0.9" height="0.9" fill="#000090"/><rect x="208.5" y="96.2" width="0.9" height="0.9" fill="#2040ff"/><rect x="225.1" y="135.5" width="0.9" height="0.9" fill="#000090"/><rect x="165.4" y="101.6" width="0.9" height="0.9" fill="#1028f0"/><rect x="168.2" y="130.2" width="0.9" height="0.9" fill="#1028f0"/><rect x="172.3" y="102.4" width="0.9" height="0.9" fill="#2040ff"/><rect x="180.1" y="104.7" width="0.9" height="0.9" fill="#2040ff"/><rect x="195.7" y="95.1" width="0.9" height="0.9" fill="#0018c0"/><rect x="175.6" y="106.4" width="0.9" height="0.9" fill="#0008d0"/><rect x="205.4" y="104.9" width="0.9" height="0.9" fill="#2040ff"/><rect x="205.4" y="116.2" width="0.9" height="0.9" fill="#0000b4"/><rect x="189.9" y="120.2" width="0.9" height="0.9" fill="#0018c0"/><rect x="221.7" y="88.4" width="0.9" height="0.9" fill="#0018c0"/><rect x="179.3" y="103.3" width="0.9" height="0.9" fill="#0018c0"/><rect x="165.9" y="105.4" width="0.9" height="0.9" fill="#0008d0"/><rect x="176.7" y="105.0" width="0.9" height="0.9" fill="#0018c0"/><rect x="162.0" y="136.2" width="0.9" height="0.9" fill="#0008d0"/><rect x="227.2" y="90.1" width="0.9" height="0.9" fill="#000090"/><rect x="222.3" y="123.7" width="0.9" height="0.9" fill="#0000b4"/><rect x="223.2" y="118.5" width="0.9" height="0.9" fill="#0008d0"/><rect x="164.4" y="135.4" width="0.9" height="0.9" fill="#1028f0"/><rect x="181.8" y="117.5" width="0.9" height="0.9" fill="#0000b4"/><rect x="195.1" y="118.8" width="0.9" height="0.9" fill="#2040ff"/><rect x="206.5" y="119.8" width="0.9" height="0.9" fill="#0018c0"/><rect x="171.8" y="135.6" width="0.9" height="0.9" fill="#0008d0"/><rect x="167.6" y="114.6" width="0.9" height="0.9" fill="#2040ff"/><rect x="189.9" y="135.2" width="0.9" height="0.9" fill="#2040ff"/><rect x="160.4" y="105.7" width="0.9" height="0.9" fill="#000090"/><rect x="163.8" y="101.4" width="0.9" height="0.9" fill="#0018c0"/><rect x="160.5" y="88.0" width="0.9" height="0.9" fill="#0018c0"/><rect x="160.6" y="89.5" width="0.9" height="0.9" fill="#000090"/><rect x="160.9" y="99.3" width="0.9" height="0.9" fill="#0008d0"/><rect x="162.1" y="109.5" width="0.9" height="0.9" fill="#000090"/><rect x="163.2" y="88.9" width="0.9" height="0.9" fill="#0000b4"/><rect x="163.9" y="112.0" width="0.9" height="0.9" fill="#0018c0"/><rect x="161.7" y="113.3" width="0.9" height="0.9" fill="#2040ff"/><rect x="160.1" y="102.0" width="0.9" height="0.9" fill="#1028f0"/><rect x="162.8" y="105.4" width="0.9" height="0.9" fill="#0018c0"/><rect x="160.3" y="131.4" width="0.9" height="0.9" fill="#0018c0"/><rect x="162.9" y="88.4" width="0.9" height="0.9" fill="#0018c0"/><rect x="160.7" y="104.9" width="0.9" height="0.9" fill="#0008d0"/><rect x="162.9" y="88.7" width="0.9" height="0.9" fill="#0018c0"/><rect x="160.2" y="96.6" width="0.9" height="0.9" fill="#000090"/><rect x="163.0" y="96.0" width="0.9" height="0.9" fill="#2040ff"/><rect x="160.6" y="89.3" width="0.9" height="0.9" fill="#000090"/><rect x="160.1" y="121.9" width="0.9" height="0.9" fill="#0008d0"/><rect x="161.4" y="109.7" width="0.9" height="0.9" fill="#2040ff"/><rect x="160.2" y="88.2" width="0.9" height="0.9" fill="#000090"/><rect x="160.9" y="96.8" width="0.9" height="0.9" fill="#000090"/><rect x="162.1" y="97.8" width="0.9" height="0.9" fill="#0000b4"/><rect x="163.0" y="94.7" width="0.9" height="0.9" fill="#2040ff"/><rect x="160.3" y="128.5" width="0.9" height="0.9" fill="#0008d0"/><rect x="160.3" y="100.1" width="0.9" height="0.9" fill="#0008d0"/><rect x="160.7" y="93.2" width="0.9" height="0.9" fill="#0008d0"/><rect x="161.2" y="105.1" width="0.9" height="0.9" fill="#0018c0"/><rect x="160.2" y="102.5" width="0.9" height="0.9" fill="#0018c0"/><rect x="160.4" y="95.0" width="0.9" height="0.9" fill="#1028f0"/><rect x="164.0" y="110.7" width="0.9" height="0.9" fill="#0018c0"/><rect x="161.1" y="95.2" width="0.9" height="0.9" fill="#000090"/><rect x="161.3" y="94.8" width="0.9" height="0.9" fill="#000090"/><rect x="160.3" y="105.1" width="0.9" height="0.9" fill="#1028f0"/><rect x="160.1" y="132.4" width="0.9" height="0.9" fill="#0008d0"/><rect x="162.0" y="91.1" width="0.9" height="0.9" fill="#0018c0"/><rect x="161.7" y="92.3" width="0.9" height="0.9" fill="#000090"/><rect x="162.8" y="90.2" width="0.9" height="0.9" fill="#0008d0"/><rect x="160.9" y="100.8" width="0.9" height="0.9" fill="#000090"/><rect x="160.5" y="91.8" width="0.9" height="0.9" fill="#1028f0"/><rect x="161.0" y="103.2" width="0.9" height="0.9" fill="#0000b4"/><rect x="163.3" y="92.9" width="0.9" height="0.9" fill="#0018c0"/><rect x="163.5" y="123.3" width="0.9" height="0.9" fill="#2040ff"/><rect x="160.2" y="99.4" width="0.9" height="0.9" fill="#0000b4"/><rect x="162.7" y="136.3" width="0.9" height="0.9" fill="#1028f0"/><rect x="161.0" y="102.1" width="0.9" height="0.9" fill="#0000b4"/><rect x="161.7" y="90.8" width="0.9" height="0.9" fill="#000090"/><rect x="163.7" y="103.2" width="0.9" height="0.9" fill="#000090"/><rect x="161.6" y="126.2" width="0.9" height="0.9" fill="#0018c0"/><rect x="160.8" y="106.5" width="0.9" height="0.9" fill="#0018c0"/><rect x="160.0" y="95.2" width="0.9" height="0.9" fill="#0008d0"/><rect x="161.0" y="89.1" width="0.9" height="0.9" fill="#0008d0"/><rect x="160.8" y="112.3" width="0.9" height="0.9" fill="#0018c0"/><rect x="160.8" y="116.3" width="0.9" height="0.9" fill="#0018c0"/><rect x="160.2" y="128.1" width="0.9" height="0.9" fill="#2040ff"/><rect x="162.9" y="124.0" width="0.9" height="0.9" fill="#1028f0"/><rect x="162.1" y="94.0" width="0.9" height="0.9" fill="#0008d0"/><rect x="163.0" y="120.8" width="0.9" height="0.9" fill="#0008d0"/><rect x="161.5" y="102.5" width="0.9" height="0.9" fill="#0018c0"/><rect x="160.1" y="95.0" width="0.9" height="0.9" fill="#0000b4"/><rect x="160.0" y="116.7" width="0.9" height="0.9" fill="#0000b4"/><rect x="160.9" y="123.6" width="0.9" height="0.9" fill="#0008d0"/><rect x="161.7" y="96.3" width="0.9" height="0.9" fill="#0000b4"/><rect x="163.9" y="102.0" width="0.9" height="0.9" fill="#0008d0"/><rect x="160.3" y="107.0" width="0.9" height="0.9" fill="#000090"/><rect x="161.7" y="107.9" width="0.9" height="0.9" fill="#000090"/><rect x="161.3" y="102.9" width="0.9" height="0.9" fill="#000090"/><rect x="160.4" y="104.9" width="0.9" height="0.9" fill="#000090"/><rect x="161.0" y="128.8" width="0.9" height="0.9" fill="#1028f0"/><rect x="160.8" y="103.9" width="0.9" height="0.9" fill="#0000b4"/><rect x="160.2" y="142.5" width="0.9" height="0.9" fill="#0008d0"/><rect x="161.5" y="90.6" width="0.9" height="0.9" fill="#0018c0"/><rect x="161.6" y="139.7" width="0.9" height="0.9" fill="#000090"/><rect x="163.2" y="125.6" width="0.9" height="0.9" fill="#000090"/><rect x="160.3" y="112.1" width="0.9" height="0.9" fill="#0018c0"/><rect x="161.0" y="125.9" width="0.9" height="0.9" fill="#1028f0"/><rect x="160.5" y="90.9" width="0.9" height="0.9" fill="#1028f0"/><rect x="162.0" y="108.3" width="0.9" height="0.9" fill="#1028f0"/><rect x="161.7" y="135.9" width="0.9" height="0.9" fill="#2040ff"/><rect x="162.7" y="94.6" width="0.9" height="0.9" fill="#1028f0"/><rect x="163.1" y="95.6" width="0.9" height="0.9" fill="#0008d0"/><rect x="160.4" y="122.8" width="0.9" height="0.9" fill="#0018c0"/><rect x="162.7" y="97.2" width="0.9" height="0.9" fill="#0000b4"/><rect x="160.6" y="134.4" width="0.9" height="0.9" fill="#000090"/><rect x="163.2" y="125.0" width="0.9" height="0.9" fill="#0000b4"/><rect x="161.0" y="123.8" width="0.9" height="0.9" fill="#1028f0"/><rect x="160.7" y="110.1" width="0.9" height="0.9" fill="#0000b4"/><rect x="160.8" y="101.2" width="0.9" height="0.9" fill="#0008d0"/><rect x="160.1" y="105.6" width="0.9" height="0.9" fill="#0018c0"/><rect x="162.5" y="88.2" width="0.9" height="0.9" fill="#000090"/><rect x="162.5" y="88.7" width="0.9" height="0.9" fill="#2040ff"/><rect x="160.1" y="98.1" width="0.9" height="0.9" fill="#0018c0"/><rect x="162.3" y="113.5" width="0.9" height="0.9" fill="#1028f0"/><rect x="160.1" y="99.7" width="0.9" height="0.9" fill="#0000b4"/><rect x="161.2" y="124.6" width="0.9" height="0.9" fill="#2040ff"/><rect x="160.9" y="96.8" width="0.9" height="0.9" fill="#0008d0"/><rect x="160.5" y="101.2" width="0.9" height="0.9" fill="#0018c0"/><rect x="161.3" y="130.0" width="0.9" height="0.9" fill="#1028f0"/><rect x="161.1" y="103.0" width="0.9" height="0.9" fill="#2040ff"/><rect x="161.2" y="113.6" width="0.9" height="0.9" fill="#2040ff"/><rect x="160.0" y="110.2" width="0.9" height="0.9" fill="#0008d0"/><rect x="162.8" y="108.3" width="0.9" height="0.9" fill="#0000b4"/><rect x="163.7" y="91.1" width="0.9" height="0.9" fill="#2040ff"/><rect x="161.4" y="133.2" width="0.9" height="0.9" fill="#0018c0"/><rect x="160.3" y="116.3" width="0.9" height="0.9" fill="#0008d0"/><rect x="161.5" y="105.8" width="0.9" height="0.9" fill="#000090"/><rect x="161.4" y="94.3" width="0.9" height="0.9" fill="#0018c0"/><rect x="160.2" y="126.4" width="0.9" height="0.9" fill="#1028f0"/><rect x="160.3" y="106.6" width="0.9" height="0.9" fill="#2040ff"/><rect x="160.5" y="102.5" width="0.9" height="0.9" fill="#0008d0"/><rect x="162.1" y="127.2" width="0.9" height="0.9" fill="#0018c0"/><rect x="162.8" y="91.7" width="0.9" height="0.9" fill="#0008d0"/><rect x="162.7" y="120.9" width="0.9" height="0.9" fill="#0008d0"/><rect x="161.4" y="105.2" width="0.9" height="0.9" fill="#2040ff"/><rect x="160.8" y="123.1" width="0.9" height="0.9" fill="#0000b4"/><rect x="163.0" y="94.8" width="0.9" height="0.9" fill="#0008d0"/><rect x="160.2" y="107.8" width="0.9" height="0.9" fill="#1028f0"/><rect x="161.4" y="106.5" width="0.9" height="0.9" fill="#2040ff"/><rect x="160.6" y="88.6" width="0.9" height="0.9" fill="#2040ff"/><rect x="164.0" y="88.8" width="0.9" height="0.9" fill="#0008d0"/><rect x="160.7" y="127.5" width="0.9" height="0.9" fill="#0000b4"/><rect x="163.6" y="118.6" width="0.9" height="0.9" fill="#0018c0"/><rect x="160.8" y="100.1" width="0.9" height="0.9" fill="#0000b4"/><rect x="161.3" y="129.8" width="0.9" height="0.9" fill="#2040ff"/><rect x="160.4" y="112.4" width="0.9" height="0.9" fill="#0018c0"/><rect x="160.9" y="95.5" width="0.9" height="0.9" fill="#0018c0"/><rect x="162.4" y="112.6" width="0.9" height="0.9" fill="#0018c0"/><rect x="160.8" y="137.1" width="0.9" height="0.9" fill="#000090"/><rect x="160.4" y="98.6" width="0.9" height="0.9" fill="#1028f0"/><rect x="161.6" y="106.2" width="0.9" height="0.9" fill="#0008d0"/><rect x="160.2" y="92.4" width="0.9" height="0.9" fill="#0018c0"/><rect x="161.5" y="96.4" width="0.9" height="0.9" fill="#000090"/><rect x="160.2" y="105.8" width="0.9" height="0.9" fill="#000090"/><rect x="160.8" y="118.2" width="0.9" height="0.9" fill="#0018c0"/><rect x="160.7" y="90.9" width="0.9" height="0.9" fill="#1028f0"/><rect x="160.1" y="90.0" width="0.9" height="0.9" fill="#1028f0"/><rect x="166.8" y="96.9" width="0.9" height="0.9" fill="#0008d0"/><rect x="162.0" y="89.3" width="0.9" height="0.9" fill="#0000b4"/><rect x="163.1" y="111.2" width="0.9" height="0.9" fill="#000090"/><rect x="161.3" y="94.1" width="0.9" height="0.9" fill="#0018c0"/><rect x="161.5" y="117.1" width="0.9" height="0.9" fill="#1028f0"/><rect x="160.6" y="107.2" width="0.9" height="0.9" fill="#0008d0"/><rect x="162.2" y="89.0" width="0.9" height="0.9" fill="#2040ff"/><rect x="163.8" y="102.4" width="0.9" height="0.9" fill="#0008d0"/><rect x="162.9" y="97.1" width="0.9" height="0.9" fill="#1028f0"/><rect x="162.1" y="120.4" width="0.9" height="0.9" fill="#1028f0"/><rect x="162.1" y="98.8" width="0.9" height="0.9" fill="#0008d0"/><rect x="161.8" y="97.3" width="0.9" height="0.9" fill="#0018c0"/><rect x="160.1" y="106.7" width="0.9" height="0.9" fill="#2040ff"/>
<polygon points="160.9,88.1 179.4,87.6 182.6,92 177,98.9 165.7,98.9 160.9,94.1" fill="#0818a0" opacity="0.55"/>
<rect x="170.9" y="91.4" width="0.9" height="0.9" fill="#3060ff"/><rect x="178.9" y="93.1" width="0.9" height="0.9" fill="#0030ff"/><rect x="166.5" y="97.1" width="0.9" height="0.9" fill="#3060ff"/><rect x="162.2" y="89.8" width="0.9" height="0.9" fill="#10a0e0"/><rect x="169.0" y="92.0" width="0.9" height="0.9" fill="#10a0e0"/><rect x="176.6" y="92.0" width="0.9" height="0.9" fill="#0030ff"/><rect x="168.4" y="91.2" width="0.9" height="0.9" fill="#10a0e0"/><rect x="172.7" y="91.0" width="0.9" height="0.9" fill="#2040e0"/><rect x="175.3" y="90.5" width="0.9" height="0.9" fill="#2040e0"/><rect x="171.8" y="95.0" width="0.9" height="0.9" fill="#2040e0"/><rect x="168.3" y="90.0" width="0.9" height="0.9" fill="#10a0e0"/><rect x="168.3" y="92.6" width="0.9" height="0.9" fill="#3060ff"/><rect x="169.2" y="89.0" width="0.9" height="0.9" fill="#3060ff"/><rect x="167.8" y="93.6" width="0.9" height="0.9" fill="#2040e0"/><rect x="162.4" y="90.2" width="0.9" height="0.9" fill="#3060ff"/><rect x="175.6" y="89.5" width="0.9" height="0.9" fill="#10a0e0"/><rect x="169.7" y="97.6" width="0.9" height="0.9" fill="#2040e0"/><rect x="171.0" y="95.9" width="0.9" height="0.9" fill="#2040e0"/><rect x="176.6" y="89.2" width="0.9" height="0.9" fill="#0030ff"/><rect x="179.1" y="91.6" width="0.9" height="0.9" fill="#2040e0"/><rect x="176.0" y="93.5" width="0.9" height="0.9" fill="#3060ff"/><rect x="164.7" y="94.5" width="0.9" height="0.9" fill="#0030ff"/><rect x="178.4" y="89.0" width="0.9" height="0.9" fill="#10a0e0"/><rect x="178.0" y="96.6" width="0.9" height="0.9" fill="#0030ff"/><rect x="171.1" y="93.9" width="0.9" height="0.9" fill="#3060ff"/><rect x="164.2" y="95.5" width="0.9" height="0.9" fill="#0030ff"/><rect x="169.9" y="92.9" width="0.9" height="0.9" fill="#0030ff"/><rect x="171.0" y="92.1" width="0.9" height="0.9" fill="#3060ff"/><rect x="171.3" y="88.8" width="0.9" height="0.9" fill="#0030ff"/><rect x="170.0" y="94.1" width="0.9" height="0.9" fill="#3060ff"/><rect x="178.8" y="89.9" width="0.9" height="0.9" fill="#0030ff"/><rect x="167.9" y="90.9" width="0.9" height="0.9" fill="#10a0e0"/><rect x="165.4" y="93.0" width="0.9" height="0.9" fill="#0030ff"/><rect x="162.9" y="97.7" width="0.9" height="0.9" fill="#0030ff"/><rect x="164.0" y="90.3" width="0.9" height="0.9" fill="#2040e0"/><rect x="176.9" y="96.1" width="0.9" height="0.9" fill="#10a0e0"/><rect x="179.9" y="89.1" width="0.9" height="0.9" fill="#3060ff"/><rect x="174.8" y="90.9" width="0.9" height="0.9" fill="#10a0e0"/><rect x="170.2" y="93.6" width="0.9" height="0.9" fill="#0030ff"/><rect x="165.5" y="91.2" width="0.9" height="0.9" fill="#2040e0"/><rect x="163.3" y="93.8" width="0.9" height="0.9" fill="#0030ff"/><rect x="177.8" y="89.2" width="0.9" height="0.9" fill="#0030ff"/><rect x="177.4" y="95.8" width="0.9" height="0.9" fill="#3060ff"/><rect x="176.3" y="89.9" width="0.9" height="0.9" fill="#10a0e0"/><rect x="165.2" y="91.7" width="0.9" height="0.9" fill="#10a0e0"/><rect x="179.2" y="90.6" width="0.9" height="0.9" fill="#10a0e0"/><rect x="164.1" y="90.2" width="0.9" height="0.9" fill="#0030ff"/><rect x="162.6" y="95.0" width="0.9" height="0.9" fill="#0030ff"/><rect x="178.2" y="89.2" width="0.9" height="0.9" fill="#2040e0"/><rect x="171.6" y="91.5" width="0.9" height="0.9" fill="#2040e0"/>
<defs><linearGradient id="band" x1="0" y1="0" x2="1" y2="0"><stop offset="0" stop-color="#ff4000"/><stop offset="0.3" stop-color="#ff1000"/><stop offset="0.55" stop-color="#ff9000"/><stop offset="0.75" stop-color="#e0f000"/><stop offset="0.9" stop-color="#20e0e0"/><stop offset="1" stop-color="#1040ff"/></linearGradient><linearGradient id="bandv" x1="0" y1="0" x2="0" y2="1"><stop offset="0" stop-color="#fff" stop-opacity="1"/><stop offset="1" stop-color="#fff" stop-opacity="1"/></linearGradient></defs>
<defs><linearGradient id="bandlo" x1="0" y1="0" x2="0" y2="1"><stop offset="0" stop-color="#ffa000"/><stop offset="0.35" stop-color="#e8e800"/><stop offset="0.7" stop-color="#60e0a0"/><stop offset="1" stop-color="#a0f0ff"/></linearGradient></defs>
<polygon points="157.3,87.2 159.8,87.2 160.6,100 160.5,115 160.0,121 157.3,121" fill="url(#band)"/>
<polygon points="157.5,93 159.0,92.5 159.2,100 159.0,112 158.6,120 157.5,124" fill="#ff1000"/>
<defs><linearGradient id="bandtop" x1="0" y1="0" x2="0" y2="1"><stop offset="0" stop-color="#80f0c0"/><stop offset="0.5" stop-color="#f0e000"/><stop offset="1" stop-color="#ff6000" stop-opacity="0"/></linearGradient></defs>
<polygon points="157.3,87.2 160.2,87.2 160.8,96 157.3,96" fill="url(#bandtop)"/>
<polygon points="157.3,119 160.6,119 159.9,128 159.0,138 158.3,147 158.0,150 157.3,150" fill="url(#bandlo)"/>
<polygon points="157.4,118 158.6,118 158.2,126 157.4,130" fill="#ff5000" opacity="0.8"/>
<polygon points="160.90,88.10 179.40,87.60 182.60,92.00 177.00,98.90 165.70,98.90 160.90,94.10" fill="none" stroke="#00d8e8" stroke-width="0.6" />
<line x1="157.20" y1="86.90" x2="157.20" y2="150.40" stroke="#fff" stroke-width="0.8" />
<line x1="157.20" y1="150.40" x2="228.50" y2="150.40" stroke="#fff" stroke-width="0.8" />
<line x1="155.70" y1="86.90" x2="157.20" y2="86.90" stroke="#fff" stroke-width="0.6" />
<text x="154.70" y="88.20" font-size="3.6" text-anchor="end" fill="#fff" >1</text>
<line x1="155.70" y1="102.80" x2="157.20" y2="102.80" stroke="#fff" stroke-width="0.6" />
<text x="154.70" y="104.10" font-size="3.6" text-anchor="end" fill="#fff" >0.75</text>
<line x1="155.70" y1="118.70" x2="157.20" y2="118.70" stroke="#fff" stroke-width="0.6" />
<text x="154.70" y="120.00" font-size="3.6" text-anchor="end" fill="#fff" >0.5</text>
<line x1="155.70" y1="134.50" x2="157.20" y2="134.50" stroke="#fff" stroke-width="0.6" />
<text x="154.70" y="135.80" font-size="3.6" text-anchor="end" fill="#fff" >0.25</text>
<line x1="155.70" y1="150.40" x2="157.20" y2="150.40" stroke="#fff" stroke-width="0.6" />
<text x="154.70" y="151.70" font-size="3.6" text-anchor="end" fill="#fff" >0</text>
<line x1="157.20" y1="150.40" x2="157.20" y2="151.90" stroke="#fff" stroke-width="0.6" />
<text x="157.20" y="155.40" font-size="3.6" text-anchor="middle" fill="#fff" >0</text>
<line x1="174.00" y1="150.40" x2="174.00" y2="151.90" stroke="#fff" stroke-width="0.6" />
<text x="174.00" y="155.40" font-size="3.6" text-anchor="middle" fill="#fff" >633</text>
<line x1="190.80" y1="150.40" x2="190.80" y2="151.90" stroke="#fff" stroke-width="0.6" />
<text x="190.80" y="155.40" font-size="3.6" text-anchor="middle" fill="#fff" >1266</text>
<line x1="207.60" y1="150.40" x2="207.60" y2="151.90" stroke="#fff" stroke-width="0.6" />
<text x="207.60" y="155.40" font-size="3.6" text-anchor="middle" fill="#fff" >1899</text>
<line x1="224.40" y1="150.40" x2="224.40" y2="151.90" stroke="#fff" stroke-width="0.6" />
<text x="224.40" y="155.40" font-size="3.6" text-anchor="middle" fill="#fff" >2533</text>
<text x="188.00" y="159.60" font-size="4.4" text-anchor="middle" fill="#fff" >Area_M01</text>
<text x="142.80" y="114.50" font-size="4.4" text-anchor="middle" fill="#fff" transform="rotate(-90 142.8 114.5)">Aspect Ratio_M01</text>
<text x="167.20" y="106.20" font-size="4.2" text-anchor="start" fill="#00e0e0" >Singlets</text>
<text x="167.20" y="110.60" font-size="4.2" text-anchor="start" fill="#00e0e0" >6.67%</text>
<line x1="23.30" y1="181.00" x2="69.30" y2="147.40" stroke="#8a8a8a" stroke-width="0.7" />
<line x1="73.60" y1="181.00" x2="88.10" y2="144.90" stroke="#8a8a8a" stroke-width="0.7" />
<line x1="123.60" y1="181.00" x2="100.50" y2="149.00" stroke="#8a8a8a" stroke-width="0.7" />
<line x1="123.60" y1="181.00" x2="157.20" y2="121.30" stroke="#8a8a8a" stroke-width="0.7" />
<line x1="174.70" y1="181.00" x2="165.40" y2="104.50" stroke="#8a8a8a" stroke-width="0.7" />
<line x1="225.10" y1="181.50" x2="199.70" y2="116.80" stroke="#8a8a8a" stroke-width="0.7" />
<rect x="3.90" y="180.70" width="37.00" height="37.00" fill="#6b6b6b" />
<g filter="url(#b08)"><ellipse cx="22.9" cy="199.7" rx="10.2" ry="12.4" fill="#242424"/><ellipse cx="24.2" cy="199.7" rx="8.4" ry="10.6" fill="#3a3a3a"/><ellipse cx="23.2" cy="200.2" rx="6.9" ry="7.9" fill="#d2d2d2"/><ellipse cx="23.6" cy="200.2" rx="4.0" ry="4.4" fill="#a2a2a2"/></g>
<rect x="54.90" y="180.70" width="36.50" height="37.00" fill="#a9a9a9" />
<g filter="url(#b08)"><ellipse cx="73.6" cy="199.2" rx="8.9" ry="6.6" fill="#e6e6e6"/><ellipse cx="75.2" cy="196.4" rx="8.6" ry="6.8" fill="#4a4a4a"/></g>
<g filter="url(#cm)"><ellipse cx="75.3" cy="197.4" rx="6.4" ry="4.6" fill="#7a7a7a"/><ellipse cx="75.0" cy="191.3" rx="6.5" ry="1.8" fill="#262626"/><ellipse cx="74.5" cy="196.2" rx="4.6" ry="1.3" fill="#c6c6c6"/><ellipse cx="78.8" cy="194.6" rx="1.5" ry="1.1" fill="#2e2e2e"/><ellipse cx="70.6" cy="194.2" rx="1.4" ry="1.1" fill="#2a2a2a"/><ellipse cx="75.5" cy="199.6" rx="3.5" ry="1.2" fill="#555"/><circle cx="80.4" cy="189.8" r="0.7" fill="#303030"/><circle cx="69.5" cy="212" r="0.8" fill="#cfcfcf"/></g>
<rect x="105.60" y="180.70" width="36.60" height="37.00" fill="#3e3e3e" />
<g filter="url(#b08)"><circle cx="124.8" cy="191.7" r="2.6" fill="#121212"/><circle cx="109.6" cy="193.5" r="1.2" fill="#2a2a2a"/><circle cx="120.6" cy="206.4" r="1.6" fill="#262626"/></g>
<rect x="156.30" y="180.70" width="36.50" height="37.00" fill="#a9a9a9" />
<g filter="url(#cm)"><ellipse cx="174.0" cy="194.8" rx="8.6" ry="5.8" fill="#dedede"/><ellipse cx="175.1" cy="193.4" rx="8.3" ry="5.9" fill="#333"/><ellipse cx="175.3" cy="194.3" rx="6.6" ry="4.3" fill="#858585"/><ellipse cx="173" cy="195" rx="2" ry="1.6" fill="#b0b0b0"/><ellipse cx="177.5" cy="193.6" rx="1.8" ry="1.3" fill="#4a4a4a"/><ellipse cx="174.0" cy="205.9" rx="8.6" ry="5.0" fill="#e2e2e2"/><ellipse cx="175.1" cy="204.5" rx="8.3" ry="5.0" fill="#666"/><ellipse cx="175.3" cy="205.2" rx="6.6" ry="3.7" fill="#9c9c9c"/><ellipse cx="172.5" cy="205" rx="1.8" ry="1.2" fill="#6a6a6a"/><ellipse cx="177.5" cy="205.5" rx="1.6" ry="1.1" fill="#6e6e6e"/></g>
<rect x="207.10" y="180.70" width="37.10" height="37.00" fill="#404040" />
<g filter="url(#cm)"><ellipse cx="225.2" cy="188.2" rx="4.6" ry="3.4" fill="#1c1c1c"/><ellipse cx="225.0" cy="189.4" rx="3.9" ry="2.3" fill="#a6a6a6"/><ellipse cx="216.8" cy="195.8" rx="5.9" ry="4.8" fill="#8a8a8a"/><ellipse cx="217.4" cy="195.0" rx="5.5" ry="4.4" fill="#2a2a2a"/><ellipse cx="217.5" cy="195.5" rx="4.6" ry="3.6" fill="#767676"/><ellipse cx="231.2" cy="200.8" rx="5.9" ry="4.8" fill="#7a7a7a"/><ellipse cx="231.6" cy="200.2" rx="5.3" ry="4.3" fill="#2a2a2a"/><ellipse cx="231.6" cy="200.6" rx="4.4" ry="3.6" fill="#686868"/><ellipse cx="223.8" cy="208.0" rx="6.5" ry="5.3" fill="#7e7e7e"/><ellipse cx="224.3" cy="207.0" rx="5.9" ry="4.7" fill="#2a2a2a"/><ellipse cx="224.3" cy="207.4" rx="5.0" ry="4.0" fill="#6c6c6c"/><ellipse cx="224" cy="201" rx="2.4" ry="1.8" fill="#5e5e5e"/></g>
<text x="22.30" y="225.70" font-size="7.8" text-anchor="middle" fill="#000" >Out-of-focus</text>
<text x="22.30" y="235.40" font-size="7.8" text-anchor="middle" fill="#000" >cells</text>
<text x="73.30" y="225.70" font-size="7.8" text-anchor="middle" fill="#000" >In-focus</text>
<text x="73.30" y="235.40" font-size="7.8" text-anchor="middle" fill="#000" >cells</text>
<text x="124.00" y="225.70" font-size="7.8" text-anchor="middle" fill="#000" >Cells</text>
<text x="124.00" y="235.40" font-size="7.8" text-anchor="middle" fill="#000" >debris</text>
<text x="174.60" y="225.70" font-size="7.8" text-anchor="middle" fill="#000" >Doublets</text>
<text x="225.60" y="225.70" font-size="7.8" text-anchor="middle" fill="#000" >Clumps</text>
<path d="M181.00,89.00 C182.17,87.97 185.50,84.43 188.00,82.80 C190.50,81.17 193.00,80.13 196.00,79.20 C199.00,78.27 201.17,77.92 206.00,77.20 C210.83,76.48 219.33,75.30 225.00,74.90 C230.67,74.50 235.00,74.73 240.00,74.80 C245.00,74.87 251.33,75.13 255.00,75.30 C258.67,75.47 260.83,75.72 262.00,75.80 L262.8,72.8 L272.3,83.4 L259.1,92.1 L259.1,87.6 C258.42,87.53 258.18,87.75 255.00,87.20 C251.82,86.65 244.17,85.03 240.00,84.30 C235.83,83.57 234.17,83.08 230.00,82.80 C225.83,82.52 219.00,82.55 215.00,82.60 C211.00,82.65 209.17,82.83 206.00,83.10 C202.83,83.37 199.00,83.68 196.00,84.20 C193.00,84.72 190.50,85.40 188.00,86.20 C185.50,87.00 182.17,88.53 181.00,89.00 Z" fill="rgb(198,198,198)" opacity="0.62"/>
<path d="M181.00,89.00 C181.67,89.07 182.67,88.97 185.00,89.40 C187.33,89.83 191.67,90.43 195.00,91.60 C198.33,92.77 201.67,94.70 205.00,96.40 C208.33,98.10 211.67,99.80 215.00,101.80 C218.33,103.80 222.33,106.33 225.00,108.40 C227.67,110.47 228.50,111.93 231.00,114.20 C233.50,116.47 236.83,119.03 240.00,122.00 C243.17,124.97 247.33,129.33 250.00,132.00 C252.67,134.67 253.65,135.83 256.00,138.00 C258.35,140.17 261.25,142.15 264.10,145.00 C266.95,147.85 270.27,151.75 273.10,155.10 C275.93,158.45 279.77,163.43 281.10,165.10 L288.2,166.1 L288.2,184.2 L268.7,178.8 L272.1,174.2 C271.60,173.35 270.60,171.62 269.10,169.10 C267.60,166.58 265.45,162.43 263.10,159.10 C260.75,155.77 258.02,152.45 255.00,149.10 C251.98,145.75 247.50,141.72 245.00,139.00 C242.50,136.28 242.33,135.42 240.00,132.80 C237.67,130.18 233.50,126.03 231.00,123.30 C228.50,120.57 227.67,119.13 225.00,116.40 C222.33,113.67 218.33,109.70 215.00,106.90 C211.67,104.10 208.33,101.78 205.00,99.60 C201.67,97.42 198.33,95.38 195.00,93.80 C191.67,92.22 187.33,90.90 185.00,90.10 C182.67,89.30 181.67,89.18 181.00,89.00 Z" fill="rgb(198,198,198)" opacity="0.62"/>
<text x="258.60" y="62.00" font-size="10.5" text-anchor="start" font-weight="bold" fill="#000" >B)</text>
<text x="281.30" y="61.00" font-size="7.7" text-anchor="start" font-weight="bold" fill="#000" >CSC – AGS</text>
<rect x="275.00" y="63.00" width="54.50" height="54.50" fill="#9c9c9c" />
<g clip-path="url(#cB)"><g filter="url(#b1)"><circle cx="303.4" cy="91.8" r="17.8" fill="#efefef"/><circle cx="305.0" cy="89.2" r="15.4" fill="#828282"/><circle cx="305.0" cy="89.0" r="13.8" fill="none" stroke="#484848" stroke-width="2.4"/><ellipse cx="305.8" cy="80.4" rx="10.5" ry="5.2" fill="#3a3a3a"/><ellipse cx="304.2" cy="97.5" rx="9" ry="4.6" fill="#8a8a8a"/><ellipse cx="303.8" cy="91" rx="1.4" ry="4.2" fill="#3c3c3c"/><circle cx="298.7" cy="89.7" r="3.0" fill="#f8f8f8"/><circle cx="308.7" cy="93.1" r="2.6" fill="#e4e4e4"/></g></g>
<text x="301.80" y="128.30" font-size="7.8" text-anchor="middle" fill="#000" >Single</text>
<text x="301.80" y="137.80" font-size="7.8" text-anchor="middle" fill="#000" >cell</text>
<text x="257.80" y="198.00" font-size="10.5" text-anchor="start" font-weight="bold" fill="#000" >C)</text>
<text x="274.80" y="197.20" font-size="7.7" text-anchor="start" font-weight="bold" fill="#000" >CSC – KATO III</text>
<rect x="275.00" y="201.00" width="55.00" height="54.50" fill="#a0a0a0" />
<g clip-path="url(#cC)"><g filter="url(#b1)"><ellipse cx="301.0" cy="230.2" rx="17.0" ry="15.8" fill="#f0f0f0"/><ellipse cx="303.4" cy="227.0" rx="15.4" ry="15.0" fill="#8c8c8c"/><ellipse cx="303.4" cy="226.4" rx="14.6" ry="14.0" fill="#3a3a3a"/><ellipse cx="304.4" cy="229.0" rx="10.8" ry="9.8" fill="#727272"/><ellipse cx="303.5" cy="238.0" rx="8" ry="2.6" fill="#a0a0a0"/><circle cx="311" cy="211.5" r="1.3" fill="#3a3a3a"/></g><g filter="url(#cm)"><ellipse cx="299.5" cy="223.5" rx="3.2" ry="1.8" fill="#a8a8a8"/><ellipse cx="309" cy="226.5" rx="2.6" ry="1.8" fill="#9c9c9c"/><ellipse cx="303.5" cy="231.5" rx="4" ry="1.8" fill="#a4a4a4"/><ellipse cx="295.5" cy="218.5" rx="3" ry="2.4" fill="#262626"/><ellipse cx="306" cy="218.5" rx="2.6" ry="1.6" fill="#2a2a2a"/><ellipse cx="298" cy="234" rx="2" ry="1.5" fill="#404040"/><ellipse cx="310" cy="233" rx="2" ry="1.5" fill="#444"/></g></g>
<text x="302.10" y="264.00" font-size="7.8" text-anchor="middle" fill="#000" >Single</text>
<text x="302.10" y="273.60" font-size="7.8" text-anchor="middle" fill="#000" >cell</text>
<text x="339.8" y="6.2" font-size="7.8"><tspan font-weight="bold">M3:</tspan> Marker Expression Histogram</text>
<rect x="331.50" y="13.10" width="1.30" height="144.60" fill="#7a7a7a" />
<rect x="331.50" y="183.80" width="1.30" height="79.60" fill="#7a7a7a" />
<line x1="348.50" y1="13.60" x2="417.20" y2="13.60" stroke="#999" stroke-width="0.5" />
<line x1="417.20" y1="13.60" x2="417.20" y2="78.40" stroke="#999" stroke-width="0.5" />
<polygon points="348.80,78.40 348.80,77.80 349.33,78.42 349.87,78.15 350.40,77.76 350.93,77.04 351.47,76.42 352.00,75.21 352.53,74.67 353.07,74.20 353.60,73.44 354.13,73.10 354.67,72.41 355.20,72.48 355.70,72.22 356.20,71.93 356.70,71.26 357.20,70.15 357.70,69.37 358.20,68.56 358.70,68.20 359.20,67.69 359.70,67.23 360.20,67.49 360.70,67.00 361.20,66.98 361.70,66.43 362.20,66.04 362.70,66.16 363.20,65.58 363.70,65.42 364.20,65.74 364.73,65.38 365.27,64.27 365.80,63.48 366.33,62.14 366.87,61.39 367.40,60.85 367.90,61.13 368.40,60.78 368.90,60.64 369.40,60.38 369.90,60.00 370.40,60.44 370.90,61.33 371.40,62.31 371.90,62.68 372.40,63.41 372.90,65.16 373.40,66.84 373.90,68.78 374.40,69.22 374.94,69.43 375.49,70.31 376.03,71.04 376.57,71.96 377.11,72.94 377.66,73.68 378.20,73.58 378.72,74.10 379.24,73.80 379.76,74.44 380.28,74.84 380.80,74.81 381.32,75.58 381.84,75.72 382.36,76.10 382.88,75.99 383.40,76.07 383.91,76.15 384.42,76.58 384.92,76.27 385.43,76.64 385.94,76.84 386.45,76.96 386.95,76.78 387.46,76.90 387.97,77.10 388.48,77.31 388.98,77.05 389.49,77.41 390.00,77.45 390.50,77.51 391.00,77.17 391.50,77.75 392.00,77.48 392.50,77.77 393.00,78.08 393.50,78.38 394.00,78.21 394.50,78.59 395.00,78.42 416.90,77.90 416.90,78.40" fill="#178017" stroke="none" stroke-width="0.6" />
<polyline points="348.80,78.40 349.32,78.25 349.85,77.83 350.38,77.20 350.90,76.45 351.43,75.70 351.95,75.07 352.48,74.65 353.00,74.50 353.53,74.34 354.07,73.89 354.60,73.20 355.13,72.35 355.67,71.45 356.20,70.60 356.73,69.91 357.27,69.46 357.80,69.30 358.30,68.56 358.80,66.64 359.30,64.26 359.80,62.34 360.30,61.60 360.86,61.48 361.41,61.13 361.97,60.63 362.53,60.07 363.09,59.57 363.64,59.22 364.20,59.10 364.77,58.44 365.35,56.85 365.93,55.26 366.50,54.60 367.00,55.40 367.50,57.00 368.00,57.80 368.65,57.45 369.30,57.10 369.95,58.05 370.60,59.00 371.25,62.25 371.90,65.50 372.50,68.70 373.10,71.90 373.62,72.32 374.14,73.42 374.66,74.78 375.18,75.88 375.70,76.30 376.27,76.61 376.85,77.35 377.43,78.09 378.00,78.40 378.50,78.40 379.00,78.40 379.50,78.40 380.00,78.40 380.50,78.40 381.00,78.40 381.50,78.40 382.00,78.40 382.50,78.40 383.00,78.40 383.50,78.40 384.00,78.40 384.50,78.40 385.00,78.40 385.50,78.40 386.00,78.40 386.50,78.40 387.00,78.40 387.50,78.40 388.00,78.40 388.50,78.40 389.00,78.40 389.50,78.40 390.00,78.40" fill="none" stroke="#000" stroke-width="0.55" />
<line x1="348.50" y1="13.60" x2="348.50" y2="78.40" stroke="#cfcfcf" stroke-width="0.8" />
<line x1="348.50" y1="78.40" x2="417.20" y2="78.40" stroke="#c8c8c8" stroke-width="0.6" />
<line x1="347.10" y1="78.40" x2="348.50" y2="78.40" stroke="#c0c0c0" stroke-width="0.5" />
<text x="346.30" y="79.80" font-size="3.8" text-anchor="end" fill="#000" >0</text>
<line x1="347.10" y1="67.60" x2="348.50" y2="67.60" stroke="#c0c0c0" stroke-width="0.5" />
<text x="346.30" y="69.00" font-size="3.8" text-anchor="end" fill="#000" >0.5</text>
<line x1="347.10" y1="56.80" x2="348.50" y2="56.80" stroke="#c0c0c0" stroke-width="0.5" />
<text x="346.30" y="58.20" font-size="3.8" text-anchor="end" fill="#000" >1</text>
<line x1="347.10" y1="46.00" x2="348.50" y2="46.00" stroke="#c0c0c0" stroke-width="0.5" />
<text x="346.30" y="47.40" font-size="3.8" text-anchor="end" fill="#000" >1.5</text>
<line x1="347.10" y1="35.20" x2="348.50" y2="35.20" stroke="#c0c0c0" stroke-width="0.5" />
<text x="346.30" y="36.60" font-size="3.8" text-anchor="end" fill="#000" >2</text>
<line x1="347.10" y1="24.40" x2="348.50" y2="24.40" stroke="#c0c0c0" stroke-width="0.5" />
<text x="346.30" y="25.80" font-size="3.8" text-anchor="end" fill="#000" >2.5</text>
<line x1="347.10" y1="13.60" x2="348.50" y2="13.60" stroke="#c0c0c0" stroke-width="0.5" />
<text x="346.30" y="15.00" font-size="3.8" text-anchor="end" fill="#000" >3</text>
<line x1="349.10" y1="78.40" x2="349.10" y2="79.70" stroke="#b0b0b0" stroke-width="0.5" />
<text x="349.10" y="84.90" font-size="4.0" text-anchor="middle" fill="#000" >-100</text>
<line x1="357.00" y1="78.40" x2="357.00" y2="79.70" stroke="#b0b0b0" stroke-width="0.5" />
<text x="357.00" y="84.90" font-size="4.0" text-anchor="middle" fill="#000" >0</text>
<line x1="363.50" y1="78.40" x2="363.50" y2="79.70" stroke="#b0b0b0" stroke-width="0.5" />
<text x="363.50" y="84.90" font-size="4.0" text-anchor="middle" fill="#000" >100</text>
<line x1="381.50" y1="78.40" x2="381.50" y2="79.70" stroke="#b0b0b0" stroke-width="0.5" />
<text x="381.50" y="84.90" font-size="4.0" text-anchor="middle" fill="#000" >1e3</text>
<line x1="399.00" y1="78.40" x2="399.00" y2="79.70" stroke="#b0b0b0" stroke-width="0.5" />
<text x="399.00" y="84.90" font-size="4.0" text-anchor="middle" fill="#000" >1e4</text>
<line x1="416.50" y1="78.40" x2="416.50" y2="79.70" stroke="#b0b0b0" stroke-width="0.5" />
<text x="416.50" y="84.90" font-size="4.0" text-anchor="middle" fill="#000" >1e5</text>
<text x="382.50" y="90.10" font-size="3.9" text-anchor="middle" fill="#000" >Intensity_MC_Ch02</text>
<text x="338.10" y="46.20" font-size="3.7" text-anchor="middle" fill="#000" transform="rotate(-90 338.10 46.20)">Normalized Frequency</text>
<text x="403.00" y="18.00" font-size="3.6" text-anchor="end" fill="#000" >Unstained control</text>
<line x1="404.50" y1="17.10" x2="414.10" y2="17.10" stroke="#6a6a6a" stroke-width="1.2" />
<text x="403.00" y="21.80" font-size="3.6" text-anchor="end" fill="#000" >CSC-AGS</text>
<line x1="404.50" y1="20.90" x2="414.10" y2="20.90" stroke="#178017" stroke-width="1.2" opacity="0.55"/>
<line x1="374.30" y1="48.30" x2="417.20" y2="48.30" stroke="#f02020" stroke-width="0.6" />
<text x="374.80" y="47.00" font-size="4.0" text-anchor="start" font-weight="bold" fill="#ff1010" >CD24+</text>
<text x="374.80" y="53.40" font-size="4.6" text-anchor="start" font-weight="bold" fill="#000" stroke="#000" stroke-width="0.2">13.6 %</text>
<line x1="438.40" y1="13.60" x2="507.10" y2="13.60" stroke="#999" stroke-width="0.5" />
<line x1="507.10" y1="13.60" x2="507.10" y2="78.40" stroke="#999" stroke-width="0.5" />
<polygon points="438.70,78.40 438.70,77.80 439.11,78.40 439.62,78.40 440.14,78.40 440.65,78.39 441.16,78.39 441.68,78.38 442.19,78.38 442.70,78.37 443.21,78.36 443.73,78.36 444.24,78.35 444.75,78.34 445.26,78.33 445.78,78.32 446.29,78.31 446.80,78.30 447.31,78.29 447.82,78.28 448.34,78.27 448.85,78.26 449.36,78.25 449.88,78.24 450.39,78.24 450.90,78.23 451.41,78.22 451.93,78.22 452.44,78.21 452.95,78.21 453.46,78.20 453.98,78.20 454.49,78.20 455.00,78.20 455.50,78.17 456.00,78.09 456.50,77.95 457.00,77.77 457.50,77.57 458.00,77.35 458.50,77.13 459.00,76.92 459.50,76.75 460.00,76.61 460.50,76.53 461.00,76.50 461.50,76.39 462.00,76.07 462.50,75.57 463.00,74.95 463.50,74.25 464.00,73.55 464.50,72.93 465.00,72.43 465.50,72.11 466.00,72.00 466.50,71.77 467.00,71.12 467.50,70.15 468.00,69.00 468.50,67.85 469.00,66.88 469.50,66.23 470.00,66.00 470.50,65.75 471.00,65.05 471.50,63.99 472.00,62.75 472.50,61.51 473.00,60.45 473.50,59.75 474.00,59.50 474.52,59.35 475.03,58.93 475.55,58.35 476.07,57.78 476.58,57.35 477.10,57.20 477.68,57.37 478.26,57.82 478.84,58.38 479.42,58.83 480.00,59.00 480.50,59.23 481.00,59.88 481.50,60.85 482.00,62.00 482.50,63.15 483.00,64.12 483.50,64.77 484.00,65.00 484.50,65.29 485.00,66.10 485.50,67.31 486.00,68.75 486.50,70.19 487.00,71.40 487.50,72.21 488.00,72.50 488.57,72.79 489.13,73.58 489.70,74.65 490.27,75.72 490.83,76.51 491.40,76.80 491.91,76.88 492.43,77.10 492.94,77.42 493.46,77.78 493.97,78.10 494.49,78.32 495.00,78.40 495.50,78.40 496.00,78.40 496.50,78.40 497.00,78.40 497.50,78.40 498.00,78.40 498.50,78.40 499.00,78.40 499.50,78.40 500.00,78.40 500.50,78.40 501.00,78.40 501.50,78.40 502.00,78.40 502.50,78.40 503.00,78.40 503.50,78.40 504.00,78.40 504.50,78.40 505.00,78.40 505.50,78.40 506.00,78.40 506.50,78.40 507.00,78.40 506.80,77.90 506.80,78.40" fill="#f5c000" stroke="none" stroke-width="0.6" />
<polyline points="438.60,78.40 439.01,78.40 439.42,78.40 439.83,78.39 440.23,78.39 440.64,78.38 441.05,78.37 441.46,78.36 441.87,78.35 442.28,78.33 442.69,78.32 443.10,78.31 443.50,78.29 443.91,78.28 444.32,78.27 444.73,78.25 445.14,78.24 445.55,78.23 445.96,78.22 446.37,78.21 446.77,78.21 447.18,78.20 447.59,78.20 448.00,78.20 448.42,78.16 448.83,78.05 449.25,77.88 449.67,77.65 450.08,77.38 450.50,77.10 450.92,76.82 451.33,76.55 451.75,76.32 452.17,76.15 452.58,76.04 453.00,76.00 453.43,75.60 453.86,74.49 454.29,72.89 454.71,71.11 455.14,69.51 455.57,68.40 456.00,68.00 456.40,66.66 456.80,63.16 457.20,58.84 457.60,55.34 458.00,54.00 458.43,52.14 458.85,47.65 459.27,43.16 459.70,41.30 460.10,42.57 460.50,45.65 460.90,48.73 461.30,50.00 461.74,51.53 462.18,55.53 462.62,60.47 463.06,64.47 463.50,66.00 463.92,66.57 464.33,68.12 464.75,70.25 465.17,72.38 465.58,73.93 466.00,74.50 466.40,74.56 466.80,74.74 467.20,75.02 467.60,75.36 468.00,75.75 468.40,76.14 468.80,76.48 469.20,76.76 469.60,76.94 470.00,77.00 470.42,77.02 470.83,77.09 471.25,77.21 471.67,77.35 472.08,77.52 472.50,77.70 472.92,77.88 473.33,78.05 473.75,78.19 474.17,78.31 474.58,78.38 475.00,78.40 475.40,78.40 475.80,78.40 476.20,78.40 476.60,78.40 477.00,78.40 477.40,78.40 477.80,78.40 478.20,78.40 478.60,78.40 479.00,78.40 479.40,78.40 479.80,78.40 480.20,78.40 480.60,78.40 481.00,78.40 481.40,78.40 481.80,78.40 482.20,78.40 482.60,78.40 483.00,78.40 483.40,78.40 483.80,78.40 484.20,78.40 484.60,78.40 485.00,78.40 485.40,78.40 485.80,78.40 486.20,78.40 486.60,78.40 487.00,78.40 487.40,78.40 487.80,78.40 488.20,78.40 488.60,78.40 489.00,78.40 489.40,78.40 489.80,78.40 490.20,78.40 490.60,78.40 491.00,78.40 491.40,78.40 491.80,78.40 492.20,78.40 492.60,78.40 493.00,78.40 493.40,78.40 493.80,78.40 494.20,78.40 494.60,78.40 495.00,78.40 495.40,78.40 495.80,78.40 496.20,78.40 496.60,78.40 497.00,78.40 497.40,78.40 497.80,78.40 498.20,78.40 498.60,78.40 499.00,78.40 499.40,78.40 499.80,78.40 500.20,78.40 500.60,78.40 501.00,78.40 501.40,78.40 501.80,78.40 502.20,78.40 502.60,78.40 503.00,78.40 503.40,78.40 503.80,78.40 504.20,78.40 504.60,78.40 505.00,78.40 505.40,78.40 505.80,78.40 506.20,78.40 506.60,78.40 507.00,78.40" fill="none" stroke="#000" stroke-width="0.55" />
<line x1="438.40" y1="13.60" x2="438.40" y2="78.40" stroke="#cfcfcf" stroke-width="0.8" />
<line x1="438.40" y1="78.40" x2="507.10" y2="78.40" stroke="#c8c8c8" stroke-width="0.6" />
<line x1="437.00" y1="78.40" x2="438.40" y2="78.40" stroke="#c0c0c0" stroke-width="0.5" />
<text x="436.20" y="79.80" font-size="3.8" text-anchor="end" fill="#000" >0</text>
<line x1="437.00" y1="67.60" x2="438.40" y2="67.60" stroke="#c0c0c0" stroke-width="0.5" />
<text x="436.20" y="69.00" font-size="3.8" text-anchor="end" fill="#000" >0.5</text>
<line x1="437.00" y1="56.80" x2="438.40" y2="56.80" stroke="#c0c0c0" stroke-width="0.5" />
<text x="436.20" y="58.20" font-size="3.8" text-anchor="end" fill="#000" >1</text>
<line x1="437.00" y1="46.00" x2="438.40" y2="46.00" stroke="#c0c0c0" stroke-width="0.5" />
<text x="436.20" y="47.40" font-size="3.8" text-anchor="end" fill="#000" >1.5</text>
<line x1="437.00" y1="35.20" x2="438.40" y2="35.20" stroke="#c0c0c0" stroke-width="0.5" />
<text x="436.20" y="36.60" font-size="3.8" text-anchor="end" fill="#000" >2</text>
<line x1="437.00" y1="24.40" x2="438.40" y2="24.40" stroke="#c0c0c0" stroke-width="0.5" />
<text x="436.20" y="25.80" font-size="3.8" text-anchor="end" fill="#000" >2.5</text>
<line x1="437.00" y1="13.60" x2="438.40" y2="13.60" stroke="#c0c0c0" stroke-width="0.5" />
<text x="436.20" y="15.00" font-size="3.8" text-anchor="end" fill="#000" >3</text>
<line x1="439.00" y1="78.40" x2="439.00" y2="79.70" stroke="#b0b0b0" stroke-width="0.5" />
<text x="439.00" y="84.90" font-size="4.0" text-anchor="middle" fill="#000" >-100</text>
<line x1="446.90" y1="78.40" x2="446.90" y2="79.70" stroke="#b0b0b0" stroke-width="0.5" />
<text x="446.90" y="84.90" font-size="4.0" text-anchor="middle" fill="#000" >0</text>
<line x1="453.40" y1="78.40" x2="453.40" y2="79.70" stroke="#b0b0b0" stroke-width="0.5" />
<text x="453.40" y="84.90" font-size="4.0" text-anchor="middle" fill="#000" >100</text>
<line x1="471.40" y1="78.40" x2="471.40" y2="79.70" stroke="#b0b0b0" stroke-width="0.5" />
<text x="471.40" y="84.90" font-size="4.0" text-anchor="middle" fill="#000" >1e3</text>
<line x1="488.90" y1="78.40" x2="488.90" y2="79.70" stroke="#b0b0b0" stroke-width="0.5" />
<text x="488.90" y="84.90" font-size="4.0" text-anchor="middle" fill="#000" >1e4</text>
<line x1="506.40" y1="78.40" x2="506.40" y2="79.70" stroke="#b0b0b0" stroke-width="0.5" />
<text x="506.40" y="84.90" font-size="4.0" text-anchor="middle" fill="#000" >1e5</text>
<text x="472.40" y="90.10" font-size="3.9" text-anchor="middle" fill="#000" >Intensity_MC_Ch03</text>
<text x="428.00" y="46.20" font-size="3.7" text-anchor="middle" fill="#000" transform="rotate(-90 428.00 46.20)">Normalized Frequency</text>
<text x="492.90" y="18.00" font-size="3.6" text-anchor="end" fill="#000" >Unstained control</text>
<line x1="494.40" y1="17.10" x2="504.00" y2="17.10" stroke="#6a6a6a" stroke-width="1.2" />
<text x="492.90" y="21.80" font-size="3.6" text-anchor="end" fill="#000" >CSC-AGS</text>
<line x1="494.40" y1="20.90" x2="504.00" y2="20.90" stroke="#f5c000" stroke-width="1.2" opacity="0.55"/>
<line x1="467.30" y1="45.30" x2="507.10" y2="45.30" stroke="#f02020" stroke-width="0.6" />
<text x="467.80" y="44.00" font-size="4.0" text-anchor="start" font-weight="bold" fill="#ff1010" >CD44+</text>
<text x="467.80" y="50.40" font-size="4.6" text-anchor="start" font-weight="bold" fill="#000" stroke="#000" stroke-width="0.2">99.4 %</text>
<line x1="529.70" y1="13.60" x2="596.50" y2="13.60" stroke="#999" stroke-width="0.5" />
<line x1="596.50" y1="13.60" x2="596.50" y2="78.40" stroke="#999" stroke-width="0.5" />
<polygon points="530.00,78.40 530.00,77.80 530.02,74.62 530.48,70.66 530.94,68.21 531.40,66.99 531.83,64.95 532.25,60.96 532.67,56.23 533.10,54.75 533.55,53.30 534.00,50.52 534.45,48.00 534.90,47.16 535.33,46.47 535.75,46.23 536.17,46.23 536.60,46.36 537.05,46.84 537.50,48.57 537.95,50.90 538.40,50.94 538.85,52.61 539.30,54.63 539.75,56.99 540.20,57.99 540.62,58.92 541.05,61.20 541.48,62.57 541.90,63.67 542.33,64.06 542.77,64.80 543.20,66.24 543.63,67.15 544.07,68.10 544.50,68.56 544.90,69.08 545.30,69.26 545.70,69.75 546.10,70.69 546.50,71.34 546.90,71.94 547.30,72.92 547.70,73.23 548.10,73.00 548.54,73.36 548.98,73.62 549.41,74.33 549.85,74.73 550.29,74.90 550.73,75.89 551.16,75.49 551.60,75.83 552.03,76.13 552.47,75.73 552.90,76.13 553.33,75.93 553.77,76.63 554.20,76.91 554.63,76.97 555.07,77.40 555.50,77.12 555.93,77.55 556.37,77.55 556.80,77.56 557.20,77.48 557.60,77.82 558.00,77.97 558.40,77.67 558.80,77.92 559.20,77.54 559.60,78.17 560.00,78.23 560.40,78.60 560.80,78.54 561.20,78.18 561.60,78.30 562.00,78.53 562.40,78.02 562.80,78.37 563.20,78.13 563.60,78.09 564.00,78.05 564.40,78.61 564.80,78.10 565.20,78.20 565.60,78.31 566.00,78.70 566.40,78.06 566.80,78.36 567.20,78.44 567.60,78.71 568.00,78.66 568.40,78.69 568.80,78.22 569.20,78.33 569.60,78.29 570.00,78.71 570.40,78.77 570.80,78.12 571.20,78.14 571.60,78.19 572.00,78.19 572.40,78.39 572.80,78.47 573.20,78.21 573.60,78.00 574.00,78.34 574.40,78.30 574.80,78.45 575.20,78.76 575.60,78.55 576.00,78.41 576.40,78.49 576.80,78.54 577.20,78.04 577.60,78.72 578.00,78.62 578.40,78.70 578.80,78.64 579.20,78.31 579.60,78.32 580.00,78.08 580.40,78.51 580.80,78.05 581.20,78.05 581.60,78.17 582.00,78.13 582.40,78.27 582.80,78.04 583.20,78.00 583.60,78.12 584.00,78.08 584.40,78.29 584.80,78.02 585.20,78.70 585.60,78.49 586.00,78.12 586.40,78.20 586.80,78.28 587.20,78.29 587.60,78.10 588.00,78.68 588.40,78.79 588.80,78.37 589.20,78.39 589.60,78.07 590.00,78.08 590.40,78.27 590.80,78.21 591.20,78.66 591.60,78.13 592.00,78.02 592.40,78.76 592.80,78.42 593.20,78.12 593.60,78.43 594.00,78.02 594.40,78.42 594.80,78.78 595.20,78.69 595.60,78.56 596.00,78.21 596.20,77.90 596.20,78.40" fill="#ee0000" stroke="none" stroke-width="0.6" />
<polyline points="529.10,78.40 529.57,75.80 530.03,70.60 530.50,68.00 530.97,64.70 531.43,58.10 531.90,54.80 532.35,53.00 532.80,48.65 533.25,44.30 533.70,42.50 534.12,42.00 534.54,40.70 534.96,39.10 535.38,37.80 535.80,37.30 536.22,37.81 536.65,39.05 537.08,40.29 537.50,40.80 537.97,43.42 538.43,48.67 538.90,51.30 539.35,52.84 539.80,56.55 540.25,60.26 540.70,61.80 541.12,62.55 541.54,64.53 541.96,66.97 542.38,68.95 542.80,69.70 543.24,69.90 543.67,70.48 544.11,71.34 544.55,72.35 544.99,73.36 545.42,74.22 545.86,74.80 546.30,75.00 546.74,75.10 547.17,75.37 547.61,75.77 548.05,76.25 548.49,76.73 548.92,77.13 549.36,77.40 549.80,77.50 550.20,77.51 550.60,77.55 551.00,77.61 551.40,77.69 551.80,77.79 552.20,77.90 552.60,78.00 553.00,78.11 553.40,78.21 553.80,78.29 554.20,78.35 554.60,78.39 555.00,78.40 555.40,78.40 555.80,78.40 556.21,78.40 556.61,78.40 557.01,78.40 557.41,78.40 557.81,78.40 558.22,78.40 558.62,78.40 559.02,78.40 559.42,78.40 559.82,78.40 560.23,78.40 560.63,78.40 561.03,78.40 561.43,78.40 561.83,78.40 562.24,78.40 562.64,78.40 563.04,78.40 563.44,78.40 563.84,78.40 564.25,78.40 564.65,78.40 565.05,78.40 565.45,78.40 565.85,78.40 566.25,78.40 566.66,78.40 567.06,78.40 567.46,78.40 567.86,78.40 568.26,78.40 568.67,78.40 569.07,78.40 569.47,78.40 569.87,78.40 570.27,78.40 570.68,78.40 571.08,78.40 571.48,78.40 571.88,78.40 572.28,78.40 572.69,78.40 573.09,78.40 573.49,78.40 573.89,78.40 574.29,78.40 574.70,78.40 575.10,78.40 575.50,78.40 575.90,78.40 576.30,78.40 576.71,78.40 577.11,78.40 577.51,78.40 577.91,78.40 578.31,78.40 578.72,78.40 579.12,78.40 579.52,78.40 579.92,78.40 580.32,78.40 580.73,78.40 581.13,78.40 581.53,78.40 581.93,78.40 582.33,78.40 582.74,78.40 583.14,78.40 583.54,78.40 583.94,78.40 584.34,78.40 584.75,78.40 585.15,78.40 585.55,78.40 585.95,78.40 586.35,78.40 586.75,78.40 587.16,78.40 587.56,78.40 587.96,78.40 588.36,78.40 588.76,78.40 589.17,78.40 589.57,78.40 589.97,78.40 590.37,78.40 590.77,78.40 591.18,78.40 591.58,78.40 591.98,78.40 592.38,78.40 592.78,78.40 593.19,78.40 593.59,78.40 593.99,78.40 594.39,78.40 594.79,78.40 595.20,78.40 595.60,78.40 596.00,78.40" fill="none" stroke="#000" stroke-width="0.55" />
<line x1="529.70" y1="13.60" x2="529.70" y2="78.40" stroke="#cfcfcf" stroke-width="0.8" />
<line x1="529.70" y1="78.40" x2="596.50" y2="78.40" stroke="#c8c8c8" stroke-width="0.6" />
<line x1="528.30" y1="78.40" x2="529.70" y2="78.40" stroke="#c0c0c0" stroke-width="0.5" />
<text x="527.50" y="79.80" font-size="3.8" text-anchor="end" fill="#000" >0</text>
<line x1="528.30" y1="67.60" x2="529.70" y2="67.60" stroke="#c0c0c0" stroke-width="0.5" />
<text x="527.50" y="69.00" font-size="3.8" text-anchor="end" fill="#000" >0.5</text>
<line x1="528.30" y1="56.80" x2="529.70" y2="56.80" stroke="#c0c0c0" stroke-width="0.5" />
<text x="527.50" y="58.20" font-size="3.8" text-anchor="end" fill="#000" >1</text>
<line x1="528.30" y1="46.00" x2="529.70" y2="46.00" stroke="#c0c0c0" stroke-width="0.5" />
<text x="527.50" y="47.40" font-size="3.8" text-anchor="end" fill="#000" >1.5</text>
<line x1="528.30" y1="35.20" x2="529.70" y2="35.20" stroke="#c0c0c0" stroke-width="0.5" />
<text x="527.50" y="36.60" font-size="3.8" text-anchor="end" fill="#000" >2</text>
<line x1="528.30" y1="24.40" x2="529.70" y2="24.40" stroke="#c0c0c0" stroke-width="0.5" />
<text x="527.50" y="25.80" font-size="3.8" text-anchor="end" fill="#000" >2.5</text>
<line x1="528.30" y1="13.60" x2="529.70" y2="13.60" stroke="#c0c0c0" stroke-width="0.5" />
<text x="527.50" y="15.00" font-size="3.8" text-anchor="end" fill="#000" >3</text>
<line x1="542.90" y1="78.40" x2="542.90" y2="79.70" stroke="#b0b0b0" stroke-width="0.5" />
<text x="542.90" y="84.90" font-size="4.0" text-anchor="middle" fill="#000" >-100</text>
<line x1="551.30" y1="78.40" x2="551.30" y2="79.70" stroke="#b0b0b0" stroke-width="0.5" />
<text x="551.30" y="84.90" font-size="4.0" text-anchor="middle" fill="#000" >0</text>
<line x1="559.70" y1="78.40" x2="559.70" y2="79.70" stroke="#b0b0b0" stroke-width="0.5" />
<text x="559.70" y="84.90" font-size="4.0" text-anchor="middle" fill="#000" >100</text>
<line x1="577.90" y1="78.40" x2="577.90" y2="79.70" stroke="#b0b0b0" stroke-width="0.5" />
<text x="577.90" y="84.90" font-size="4.0" text-anchor="middle" fill="#000" >1e3</text>
<line x1="596.40" y1="78.40" x2="596.40" y2="79.70" stroke="#b0b0b0" stroke-width="0.5" />
<text x="596.40" y="84.90" font-size="4.0" text-anchor="middle" fill="#000" >1e4</text>
<text x="563.70" y="90.10" font-size="3.9" text-anchor="middle" fill="#000" >Intensity_MC_Ch11</text>
<text x="519.30" y="46.20" font-size="3.7" text-anchor="middle" fill="#000" transform="rotate(-90 519.30 46.20)">Normalized Frequency</text>
<text x="584.20" y="18.00" font-size="3.6" text-anchor="end" fill="#000" >Unstained control</text>
<line x1="585.70" y1="17.10" x2="595.30" y2="17.10" stroke="#6a6a6a" stroke-width="1.2" />
<text x="584.20" y="21.80" font-size="3.6" text-anchor="end" fill="#000" >CSC-AGS</text>
<line x1="585.70" y1="20.90" x2="595.30" y2="20.90" stroke="#ee0000" stroke-width="1.2" opacity="0.55"/>
<line x1="547.50" y1="44.20" x2="596.50" y2="44.20" stroke="#f02020" stroke-width="0.6" />
<text x="548.00" y="42.90" font-size="4.0" text-anchor="start" font-weight="bold" fill="#ff1010" >CD133+</text>
<text x="548.00" y="49.30" font-size="4.6" text-anchor="start" font-weight="bold" fill="#000" stroke="#000" stroke-width="0.2">6.21 %</text>
<line x1="348.50" y1="94.30" x2="417.20" y2="94.30" stroke="#999" stroke-width="0.5" />
<line x1="417.20" y1="94.30" x2="417.20" y2="159.10" stroke="#999" stroke-width="0.5" />
<polygon points="348.80,159.10 348.80,158.50 349.00,159.10 349.50,159.10 350.00,159.09 350.50,159.09 351.00,159.08 351.50,159.06 352.00,159.05 352.50,159.03 353.00,159.01 353.50,158.99 354.00,158.97 354.50,158.95 355.00,158.92 355.50,158.90 356.00,158.88 356.50,158.85 357.00,158.83 357.50,158.81 358.00,158.79 358.50,158.77 359.00,158.75 359.50,158.74 360.00,158.72 360.50,158.71 361.00,158.71 361.50,158.70 362.00,158.70 362.50,158.65 363.00,158.52 363.50,158.32 364.00,158.08 364.50,157.82 365.00,157.57 365.50,157.38 366.00,157.25 366.50,157.20 367.00,157.12 367.50,156.90 368.00,156.58 368.50,156.22 369.00,155.90 369.50,155.68 370.00,155.60 370.55,155.50 371.10,155.22 371.65,154.80 372.20,154.30 372.75,153.80 373.30,153.38 373.85,153.10 374.40,153.00 374.92,152.80 375.43,152.25 375.95,151.50 376.47,150.75 376.98,150.20 377.50,150.00 378.05,149.78 378.60,149.18 379.15,148.35 379.70,147.53 380.25,146.92 380.80,146.70 381.34,146.35 381.88,145.42 382.42,144.28 382.96,143.35 383.50,143.00 384.02,142.75 384.55,142.15 385.08,141.55 385.60,141.30 386.20,141.62 386.80,142.40 387.40,143.18 388.00,143.50 388.50,144.09 389.00,145.50 389.50,146.91 390.00,147.50 390.63,148.50 391.27,150.50 391.90,151.50 392.42,151.91 392.95,152.90 393.48,153.89 394.00,154.30 394.54,154.49 395.08,154.99 395.62,155.61 396.16,156.11 396.70,156.30 397.25,156.41 397.80,156.70 398.35,157.10 398.90,157.50 399.45,157.79 400.00,157.90 400.50,157.94 401.00,158.05 401.50,158.20 402.00,158.35 402.50,158.46 403.00,158.50 403.50,158.51 404.00,158.56 404.50,158.62 405.00,158.71 405.50,158.80 406.00,158.89 406.50,158.98 407.00,159.04 407.50,159.09 408.00,159.10 408.50,159.10 409.00,159.10 409.50,159.10 410.00,159.10 410.50,159.10 411.00,159.10 411.50,159.10 412.00,159.10 412.50,159.10 413.00,159.10 413.50,159.10 414.00,159.10 414.50,159.10 415.00,159.10 415.50,159.10 416.00,159.10 416.90,158.60 416.90,159.10" fill="#33e89e" stroke="none" stroke-width="0.6" />
<polyline points="349.00,159.10 349.50,158.92 350.00,158.44 350.50,157.86 351.00,157.38 351.50,157.20 352.07,156.83 352.65,155.95 353.23,155.07 353.80,154.70 354.35,154.16 354.90,152.85 355.45,151.54 356.00,151.00 356.52,150.59 357.04,149.51 357.56,148.19 358.08,147.11 358.60,146.70 359.12,146.39 359.63,145.53 360.15,144.35 360.67,143.18 361.18,142.31 361.70,142.00 362.23,141.68 362.77,140.80 363.30,139.60 363.83,138.40 364.37,137.52 364.90,137.20 365.43,136.80 365.97,136.00 366.50,135.60 367.05,136.30 367.60,138.00 368.15,139.70 368.70,140.40 369.22,141.15 369.74,143.13 370.26,145.57 370.78,147.55 371.30,148.30 371.82,148.84 372.33,150.30 372.85,152.30 373.37,154.30 373.88,155.76 374.40,156.30 374.91,156.42 375.43,156.77 375.94,157.27 376.46,157.83 376.97,158.33 377.49,158.68 378.00,158.80 378.50,158.81 379.00,158.84 379.50,158.89 380.00,158.95 380.50,159.01 381.00,159.06 381.50,159.09 382.00,159.10 382.50,159.10 383.00,159.10 383.50,159.10 384.00,159.10 384.50,159.10 385.00,159.10 385.50,159.10 386.00,159.10 386.50,159.10 387.00,159.10 387.50,159.10 388.00,159.10 388.50,159.10 389.00,159.10 389.50,159.10 390.00,159.10 390.50,159.10 391.00,159.10 391.50,159.10 392.00,159.10 392.50,159.10 393.00,159.10 393.50,159.10 394.00,159.10 394.50,159.10 395.00,159.10 395.50,159.10 396.00,159.10 396.50,159.10 397.00,159.10 397.50,159.10 398.00,159.10 398.50,159.10 399.00,159.10 399.50,159.10 400.00,159.10 400.50,159.10 401.00,159.10 401.50,159.10 402.00,159.10 402.50,159.10 403.00,159.10 403.50,159.10 404.00,159.10 404.50,159.10 405.00,159.10 405.50,159.10 406.00,159.10 406.50,159.10 407.00,159.10 407.50,159.10 408.00,159.10 408.50,159.10 409.00,159.10 409.50,159.10 410.00,159.10 410.50,159.10 411.00,159.10 411.50,159.10 412.00,159.10 412.50,159.10 413.00,159.10 413.50,159.10 414.00,159.10 414.50,159.10 415.00,159.10 415.50,159.10 416.00,159.10" fill="none" stroke="#000" stroke-width="0.55" />
<line x1="348.50" y1="94.30" x2="348.50" y2="159.10" stroke="#cfcfcf" stroke-width="0.8" />
<line x1="348.50" y1="159.10" x2="417.20" y2="159.10" stroke="#c8c8c8" stroke-width="0.6" />
<line x1="347.10" y1="159.10" x2="348.50" y2="159.10" stroke="#c0c0c0" stroke-width="0.5" />
<text x="346.30" y="160.50" font-size="3.8" text-anchor="end" fill="#000" >0</text>
<line x1="347.10" y1="148.30" x2="348.50" y2="148.30" stroke="#c0c0c0" stroke-width="0.5" />
<text x="346.30" y="149.70" font-size="3.8" text-anchor="end" fill="#000" >0.5</text>
<line x1="347.10" y1="137.50" x2="348.50" y2="137.50" stroke="#c0c0c0" stroke-width="0.5" />
<text x="346.30" y="138.90" font-size="3.8" text-anchor="end" fill="#000" >1</text>
<line x1="347.10" y1="126.70" x2="348.50" y2="126.70" stroke="#c0c0c0" stroke-width="0.5" />
<text x="346.30" y="128.10" font-size="3.8" text-anchor="end" fill="#000" >1.5</text>
<line x1="347.10" y1="115.90" x2="348.50" y2="115.90" stroke="#c0c0c0" stroke-width="0.5" />
<text x="346.30" y="117.30" font-size="3.8" text-anchor="end" fill="#000" >2</text>
<line x1="347.10" y1="105.10" x2="348.50" y2="105.10" stroke="#c0c0c0" stroke-width="0.5" />
<text x="346.30" y="106.50" font-size="3.8" text-anchor="end" fill="#000" >2.5</text>
<line x1="347.10" y1="94.30" x2="348.50" y2="94.30" stroke="#c0c0c0" stroke-width="0.5" />
<text x="346.30" y="95.70" font-size="3.8" text-anchor="end" fill="#000" >3</text>
<line x1="349.10" y1="159.10" x2="349.10" y2="160.40" stroke="#b0b0b0" stroke-width="0.5" />
<text x="349.10" y="165.60" font-size="4.0" text-anchor="middle" fill="#000" >-100</text>
<line x1="357.00" y1="159.10" x2="357.00" y2="160.40" stroke="#b0b0b0" stroke-width="0.5" />
<text x="357.00" y="165.60" font-size="4.0" text-anchor="middle" fill="#000" >0</text>
<line x1="363.50" y1="159.10" x2="363.50" y2="160.40" stroke="#b0b0b0" stroke-width="0.5" />
<text x="363.50" y="165.60" font-size="4.0" text-anchor="middle" fill="#000" >100</text>
<line x1="381.50" y1="159.10" x2="381.50" y2="160.40" stroke="#b0b0b0" stroke-width="0.5" />
<text x="381.50" y="165.60" font-size="4.0" text-anchor="middle" fill="#000" >1e3</text>
<line x1="399.00" y1="159.10" x2="399.00" y2="160.40" stroke="#b0b0b0" stroke-width="0.5" />
<text x="399.00" y="165.60" font-size="4.0" text-anchor="middle" fill="#000" >1e4</text>
<line x1="416.50" y1="159.10" x2="416.50" y2="160.40" stroke="#b0b0b0" stroke-width="0.5" />
<text x="416.50" y="165.60" font-size="4.0" text-anchor="middle" fill="#000" >1e5</text>
<text x="382.50" y="170.80" font-size="3.9" text-anchor="middle" fill="#000" >Intensity_MC_Ch02</text>
<text x="338.10" y="126.90" font-size="3.7" text-anchor="middle" fill="#000" transform="rotate(-90 338.10 126.90)">Normalized Frequency</text>
<text x="403.00" y="98.70" font-size="3.6" text-anchor="end" fill="#000" >Unstained control</text>
<line x1="404.50" y1="97.80" x2="414.10" y2="97.80" stroke="#6a6a6a" stroke-width="1.2" />
<text x="403.00" y="102.50" font-size="3.6" text-anchor="end" fill="#000" >CSC-AGS</text>
<line x1="404.50" y1="101.60" x2="414.10" y2="101.60" stroke="#33e89e" stroke-width="1.2" opacity="0.55"/>
<line x1="373.80" y1="129.90" x2="417.20" y2="129.90" stroke="#f02020" stroke-width="0.6" />
<text x="374.30" y="128.60" font-size="4.0" text-anchor="start" font-weight="bold" fill="#ff1010" >CD166+</text>
<text x="374.30" y="135.00" font-size="4.6" text-anchor="start" font-weight="bold" fill="#000" stroke="#000" stroke-width="0.2">83.6 %</text>
<line x1="438.40" y1="94.30" x2="505.20" y2="94.30" stroke="#999" stroke-width="0.5" />
<line x1="505.20" y1="94.30" x2="505.20" y2="159.10" stroke="#999" stroke-width="0.5" />
<polygon points="438.70,159.10 438.70,158.50 439.00,159.06 439.40,158.97 439.80,158.74 440.21,159.47 440.61,158.60 441.01,159.10 441.41,159.49 441.82,158.68 442.22,159.15 442.62,159.21 443.02,158.63 443.42,158.97 443.83,159.29 444.23,159.03 444.63,159.30 445.03,158.73 445.43,158.81 445.84,158.68 446.24,159.07 446.64,159.48 447.04,159.15 447.45,159.32 447.85,158.93 448.25,159.29 448.65,158.64 449.05,158.82 449.46,159.20 449.86,159.25 450.26,158.94 450.66,158.60 451.07,158.77 451.47,158.71 451.87,158.77 452.27,159.30 452.67,158.68 453.08,159.36 453.48,159.35 453.88,158.52 454.28,158.83 454.68,158.94 455.09,158.46 455.49,158.86 455.89,159.33 456.29,158.53 456.70,159.01 457.10,158.53 457.50,158.98 457.90,159.29 458.30,158.59 458.71,158.39 459.11,158.46 459.51,158.91 459.91,158.38 460.32,158.44 460.72,158.84 461.12,159.26 461.52,158.75 461.92,158.72 462.33,158.96 462.73,158.41 463.13,158.89 463.53,158.47 463.93,158.90 464.34,159.25 464.74,158.34 465.14,158.83 465.54,158.88 465.95,158.42 466.35,158.53 466.75,159.25 467.15,159.25 467.55,158.37 467.96,158.95 468.36,159.19 468.76,158.47 469.16,158.84 469.57,158.27 469.97,158.59 470.37,158.90 470.77,158.81 471.17,158.99 471.58,158.30 471.98,158.56 472.38,159.07 472.78,158.79 473.18,158.66 473.59,158.61 473.99,159.19 474.39,158.78 474.79,158.22 475.20,159.00 475.60,158.53 476.00,158.63 476.41,158.38 476.82,158.50 477.23,158.22 477.64,157.79 478.06,158.13 478.47,157.40 478.88,157.92 479.29,157.06 479.70,157.78 480.11,157.69 480.53,157.05 480.94,156.78 481.36,155.78 481.77,155.79 482.19,155.14 482.60,154.83 483.06,155.17 483.52,153.58 483.98,152.29 484.44,151.75 484.90,150.87 485.35,150.57 485.80,148.62 486.25,147.84 486.70,146.66 487.12,146.11 487.55,146.23 487.97,144.61 488.40,145.05 488.80,145.03 489.20,144.51 489.60,143.71 490.00,143.56 490.40,143.56 490.80,143.69 491.23,143.85 491.65,144.07 492.07,143.31 492.50,143.04 492.91,143.41 493.33,142.83 493.74,142.56 494.16,142.78 494.57,142.70 494.99,141.92 495.40,142.25 495.81,142.44 496.23,142.34 496.64,141.72 497.06,141.95 497.47,140.99 497.89,141.37 498.30,141.37 498.90,141.78 499.50,141.69 499.95,142.32 500.40,144.75 500.85,147.70 501.30,148.37 501.76,149.44 502.22,150.50 502.68,153.17 503.14,154.21 503.60,154.61 504.10,155.40 504.60,156.93 505.10,157.66 505.20,158.99 504.90,158.60 504.90,159.10" fill="#f59000" stroke="none" stroke-width="0.6" />
<polyline points="438.60,159.10 439.01,159.10 439.42,159.10 439.83,159.09 440.23,159.09 440.64,159.08 441.05,159.07 441.46,159.06 441.87,159.05 442.28,159.03 442.69,159.02 443.10,159.01 443.50,158.99 443.91,158.98 444.32,158.97 444.73,158.95 445.14,158.94 445.55,158.93 445.96,158.92 446.37,158.91 446.77,158.91 447.18,158.90 447.59,158.90 448.00,158.90 448.42,158.87 448.83,158.77 449.25,158.62 449.67,158.43 450.08,158.20 450.50,157.95 450.92,157.70 451.33,157.47 451.75,157.28 452.17,157.13 452.58,157.03 453.00,157.00 453.43,156.60 453.86,155.49 454.29,153.89 454.71,152.11 455.14,150.51 455.57,149.40 456.00,149.00 456.40,147.66 456.80,144.16 457.20,139.84 457.60,136.34 458.00,135.00 458.43,133.14 458.85,128.65 459.27,124.16 459.70,122.30 460.10,123.57 460.50,126.65 460.90,129.73 461.30,131.00 461.74,132.53 462.18,136.53 462.62,141.47 463.06,145.47 463.50,147.00 463.92,147.57 464.33,149.12 464.75,151.25 465.17,153.38 465.58,154.93 466.00,155.50 466.40,155.56 466.80,155.74 467.20,156.02 467.60,156.36 468.00,156.75 468.40,157.14 468.80,157.48 469.20,157.76 469.60,157.94 470.00,158.00 470.42,158.02 470.83,158.07 471.25,158.16 471.67,158.28 472.08,158.41 472.50,158.55 472.92,158.69 473.33,158.82 473.75,158.94 474.17,159.03 474.58,159.08 475.00,159.10 475.40,159.10 475.80,159.10 476.20,159.10 476.60,159.10 477.00,159.10 477.40,159.10 477.80,159.10 478.20,159.10 478.60,159.10 479.00,159.10 479.40,159.10 479.80,159.10 480.20,159.10 480.60,159.10 481.00,159.10 481.40,159.10 481.80,159.10 482.20,159.10 482.60,159.10 483.00,159.10 483.40,159.10 483.80,159.10 484.20,159.10 484.60,159.10 485.00,159.10 485.40,159.10 485.80,159.10 486.20,159.10 486.60,159.10 487.00,159.10 487.40,159.10 487.80,159.10 488.20,159.10 488.60,159.10 489.00,159.10 489.40,159.10 489.80,159.10 490.20,159.10 490.60,159.10 491.00,159.10 491.40,159.10 491.80,159.10 492.20,159.10 492.60,159.10 493.00,159.10 493.40,159.10 493.80,159.10 494.20,159.10 494.60,159.10 495.00,159.10 495.40,159.10 495.80,159.10 496.20,159.10 496.60,159.10 497.00,159.10 497.40,159.10 497.80,159.10 498.20,159.10 498.60,159.10 499.00,159.10 499.40,159.10 499.80,159.10 500.20,159.10 500.60,159.10 501.00,159.10 501.40,159.10 501.80,159.10 502.20,159.10 502.60,159.10 503.00,159.10 503.40,159.10 503.80,159.10 504.20,159.10 504.60,159.10 505.00,159.10 505.40,159.10 505.80,159.10 506.20,159.10 506.60,159.10 507.00,159.10" fill="none" stroke="#000" stroke-width="0.55" />
<line x1="438.40" y1="94.30" x2="438.40" y2="159.10" stroke="#cfcfcf" stroke-width="0.8" />
<line x1="438.40" y1="159.10" x2="505.20" y2="159.10" stroke="#c8c8c8" stroke-width="0.6" />
<line x1="437.00" y1="159.10" x2="438.40" y2="159.10" stroke="#c0c0c0" stroke-width="0.5" />
<text x="436.20" y="160.50" font-size="3.8" text-anchor="end" fill="#000" >0</text>
<line x1="437.00" y1="148.30" x2="438.40" y2="148.30" stroke="#c0c0c0" stroke-width="0.5" />
<text x="436.20" y="149.70" font-size="3.8" text-anchor="end" fill="#000" >0.5</text>
<line x1="437.00" y1="137.50" x2="438.40" y2="137.50" stroke="#c0c0c0" stroke-width="0.5" />
<text x="436.20" y="138.90" font-size="3.8" text-anchor="end" fill="#000" >1</text>
<line x1="437.00" y1="126.70" x2="438.40" y2="126.70" stroke="#c0c0c0" stroke-width="0.5" />
<text x="436.20" y="128.10" font-size="3.8" text-anchor="end" fill="#000" >1.5</text>
<line x1="437.00" y1="115.90" x2="438.40" y2="115.90" stroke="#c0c0c0" stroke-width="0.5" />
<text x="436.20" y="117.30" font-size="3.8" text-anchor="end" fill="#000" >2</text>
<line x1="437.00" y1="105.10" x2="438.40" y2="105.10" stroke="#c0c0c0" stroke-width="0.5" />
<text x="436.20" y="106.50" font-size="3.8" text-anchor="end" fill="#000" >2.5</text>
<line x1="437.00" y1="94.30" x2="438.40" y2="94.30" stroke="#c0c0c0" stroke-width="0.5" />
<text x="436.20" y="95.70" font-size="3.8" text-anchor="end" fill="#000" >3</text>
<line x1="438.98" y1="159.10" x2="438.98" y2="160.40" stroke="#b0b0b0" stroke-width="0.5" />
<text x="438.98" y="165.60" font-size="4.0" text-anchor="middle" fill="#000" >-100</text>
<line x1="446.66" y1="159.10" x2="446.66" y2="160.40" stroke="#b0b0b0" stroke-width="0.5" />
<text x="446.66" y="165.60" font-size="4.0" text-anchor="middle" fill="#000" >0</text>
<line x1="452.99" y1="159.10" x2="452.99" y2="160.40" stroke="#b0b0b0" stroke-width="0.5" />
<text x="452.99" y="165.60" font-size="4.0" text-anchor="middle" fill="#000" >100</text>
<line x1="470.49" y1="159.10" x2="470.49" y2="160.40" stroke="#b0b0b0" stroke-width="0.5" />
<text x="470.49" y="165.60" font-size="4.0" text-anchor="middle" fill="#000" >1e3</text>
<line x1="487.50" y1="159.10" x2="487.50" y2="160.40" stroke="#b0b0b0" stroke-width="0.5" />
<text x="487.50" y="165.60" font-size="4.0" text-anchor="middle" fill="#000" >1e4</text>
<line x1="504.52" y1="159.10" x2="504.52" y2="160.40" stroke="#b0b0b0" stroke-width="0.5" />
<text x="504.52" y="165.60" font-size="4.0" text-anchor="middle" fill="#000" >1e5</text>
<text x="472.40" y="170.80" font-size="3.9" text-anchor="middle" fill="#000" >Intensity_MC_Ch03</text>
<text x="428.00" y="126.90" font-size="3.7" text-anchor="middle" fill="#000" transform="rotate(-90 428.00 126.90)">Normalized Frequency</text>
<text x="492.90" y="98.70" font-size="3.6" text-anchor="end" fill="#000" >Unstained control</text>
<line x1="494.40" y1="97.80" x2="504.00" y2="97.80" stroke="#6a6a6a" stroke-width="1.2" />
<text x="492.90" y="102.50" font-size="3.6" text-anchor="end" fill="#000" >CSC-AGS</text>
<line x1="494.40" y1="101.60" x2="504.00" y2="101.60" stroke="#f59000" stroke-width="1.2" opacity="0.55"/>
<line x1="466.00" y1="125.50" x2="505.20" y2="125.50" stroke="#f02020" stroke-width="0.6" />
<text x="466.50" y="124.20" font-size="4.0" text-anchor="start" font-weight="bold" fill="#ff1010" >EpCAM+</text>
<text x="466.50" y="130.60" font-size="4.6" text-anchor="start" font-weight="bold" fill="#000" stroke="#000" stroke-width="0.2">99.3 %</text>
<line x1="529.70" y1="94.30" x2="596.50" y2="94.30" stroke="#999" stroke-width="0.5" />
<line x1="596.50" y1="94.30" x2="596.50" y2="159.10" stroke="#999" stroke-width="0.5" />
<polygon points="530.00,159.10 530.00,158.50 530.08,149.14 530.50,146.85 530.97,143.81 531.43,137.59 531.90,134.58 532.35,134.09 532.80,131.45 533.25,129.62 533.70,128.47 534.12,128.78 534.55,129.50 534.98,130.42 535.40,130.49 535.85,131.04 536.30,133.72 536.75,136.09 537.20,137.70 537.62,138.94 538.05,142.04 538.48,145.17 538.90,146.40 539.32,147.07 539.74,148.27 540.16,149.47 540.58,151.27 541.00,151.49 541.44,151.80 541.88,151.93 542.31,152.25 542.75,152.69 543.19,153.24 543.62,153.57 544.06,153.69 544.50,154.36 544.94,154.38 545.38,154.66 545.82,154.62 546.26,154.77 546.70,155.20 547.14,154.99 547.58,155.67 548.02,155.68 548.46,155.60 548.90,155.66 549.34,155.95 549.78,155.83 550.22,156.14 550.66,156.43 551.10,156.47 551.54,156.46 551.98,156.92 552.42,156.86 552.86,156.96 553.30,156.96 553.72,157.11 554.14,156.93 554.56,157.48 554.97,157.84 555.39,157.53 555.81,157.96 556.23,158.31 556.65,157.78 557.07,158.05 557.49,158.76 557.91,158.95 558.33,158.93 558.74,158.67 559.16,158.96 559.58,159.38 560.00,159.41 560.40,159.34 560.80,158.86 561.20,159.38 561.60,159.00 562.00,159.27 562.40,158.81 562.80,159.48 563.20,159.18 563.60,159.28 564.00,158.87 564.40,159.19 564.80,159.16 565.20,159.17 565.60,158.99 566.00,159.28 566.40,158.97 566.80,158.94 567.20,158.83 567.60,159.25 568.00,158.79 568.40,158.88 568.80,158.76 569.20,159.21 569.60,159.14 570.00,159.13 570.40,158.73 570.80,159.05 571.20,158.97 571.60,158.77 572.00,158.70 572.40,159.50 572.80,158.80 573.20,158.94 573.60,158.92 574.00,159.18 574.40,158.76 574.80,159.08 575.20,158.99 575.60,159.37 576.00,158.70 576.40,158.97 576.80,159.10 577.20,159.48 577.60,159.11 578.00,159.08 578.40,159.24 578.80,158.94 579.20,158.73 579.60,159.10 580.00,159.43 580.40,159.29 580.80,158.91 581.20,159.25 581.60,159.38 582.00,158.91 582.40,159.17 582.80,158.98 583.20,158.90 583.60,158.93 584.00,158.86 584.40,158.98 584.80,158.73 585.20,159.02 585.60,158.77 586.00,159.31 586.40,159.18 586.80,158.70 587.20,159.32 587.60,158.85 588.00,159.08 588.40,159.14 588.80,158.97 589.20,158.93 589.60,159.05 590.00,158.81 590.40,159.39 590.80,158.79 591.20,159.36 591.60,158.87 592.00,158.94 592.40,159.01 592.80,158.73 593.20,158.80 593.60,158.99 594.00,159.05 594.40,159.40 594.80,159.49 595.20,158.73 595.60,159.13 596.00,158.80 596.20,158.60 596.20,159.10" fill="#b03c3c" stroke="none" stroke-width="0.6" />
<polyline points="528.80,159.10 529.22,157.11 529.64,151.91 530.06,145.49 530.48,140.29 530.90,138.30 531.33,135.99 531.75,130.40 532.17,124.81 532.60,122.50 533.05,121.74 533.50,119.90 533.95,118.06 534.40,117.30 534.87,117.95 535.33,119.25 535.80,119.90 536.27,122.30 536.73,127.10 537.20,129.50 537.80,135.65 538.40,141.80 538.85,143.09 539.30,146.20 539.75,149.31 540.20,150.60 540.63,150.83 541.07,151.47 541.50,152.35 541.93,153.22 542.37,153.87 542.80,154.10 543.24,154.17 543.67,154.36 544.11,154.66 544.55,155.00 544.99,155.34 545.42,155.64 545.86,155.83 546.30,155.90 546.71,155.93 547.12,156.03 547.53,156.18 547.94,156.35 548.36,156.55 548.77,156.72 549.18,156.87 549.59,156.97 550.00,157.00 550.42,157.04 550.83,157.14 551.25,157.31 551.67,157.53 552.08,157.78 552.50,158.05 552.92,158.32 553.33,158.57 553.75,158.79 554.17,158.96 554.58,159.06 555.00,159.10 555.40,159.10 555.80,159.10 556.21,159.10 556.61,159.10 557.01,159.10 557.41,159.10 557.81,159.10 558.22,159.10 558.62,159.10 559.02,159.10 559.42,159.10 559.82,159.10 560.23,159.10 560.63,159.10 561.03,159.10 561.43,159.10 561.83,159.10 562.24,159.10 562.64,159.10 563.04,159.10 563.44,159.10 563.84,159.10 564.25,159.10 564.65,159.10 565.05,159.10 565.45,159.10 565.85,159.10 566.25,159.10 566.66,159.10 567.06,159.10 567.46,159.10 567.86,159.10 568.26,159.10 568.67,159.10 569.07,159.10 569.47,159.10 569.87,159.10 570.27,159.10 570.68,159.10 571.08,159.10 571.48,159.10 571.88,159.10 572.28,159.10 572.69,159.10 573.09,159.10 573.49,159.10 573.89,159.10 574.29,159.10 574.70,159.10 575.10,159.10 575.50,159.10 575.90,159.10 576.30,159.10 576.71,159.10 577.11,159.10 577.51,159.10 577.91,159.10 578.31,159.10 578.72,159.10 579.12,159.10 579.52,159.10 579.92,159.10 580.32,159.10 580.73,159.10 581.13,159.10 581.53,159.10 581.93,159.10 582.33,159.10 582.74,159.10 583.14,159.10 583.54,159.10 583.94,159.10 584.34,159.10 584.75,159.10 585.15,159.10 585.55,159.10 585.95,159.10 586.35,159.10 586.75,159.10 587.16,159.10 587.56,159.10 587.96,159.10 588.36,159.10 588.76,159.10 589.17,159.10 589.57,159.10 589.97,159.10 590.37,159.10 590.77,159.10 591.18,159.10 591.58,159.10 591.98,159.10 592.38,159.10 592.78,159.10 593.19,159.10 593.59,159.10 593.99,159.10 594.39,159.10 594.79,159.10 595.20,159.10 595.60,159.10 596.00,159.10" fill="none" stroke="#000" stroke-width="0.55" />
<line x1="529.70" y1="94.30" x2="529.70" y2="159.10" stroke="#cfcfcf" stroke-width="0.8" />
<line x1="529.70" y1="159.10" x2="596.50" y2="159.10" stroke="#c8c8c8" stroke-width="0.6" />
<line x1="528.30" y1="159.10" x2="529.70" y2="159.10" stroke="#c0c0c0" stroke-width="0.5" />
<text x="527.50" y="160.50" font-size="3.8" text-anchor="end" fill="#000" >0</text>
<line x1="528.30" y1="148.30" x2="529.70" y2="148.30" stroke="#c0c0c0" stroke-width="0.5" />
<text x="527.50" y="149.70" font-size="3.8" text-anchor="end" fill="#000" >0.5</text>
<line x1="528.30" y1="137.50" x2="529.70" y2="137.50" stroke="#c0c0c0" stroke-width="0.5" />
<text x="527.50" y="138.90" font-size="3.8" text-anchor="end" fill="#000" >1</text>
<line x1="528.30" y1="126.70" x2="529.70" y2="126.70" stroke="#c0c0c0" stroke-width="0.5" />
<text x="527.50" y="128.10" font-size="3.8" text-anchor="end" fill="#000" >1.5</text>
<line x1="528.30" y1="115.90" x2="529.70" y2="115.90" stroke="#c0c0c0" stroke-width="0.5" />
<text x="527.50" y="117.30" font-size="3.8" text-anchor="end" fill="#000" >2</text>
<line x1="528.30" y1="105.10" x2="529.70" y2="105.10" stroke="#c0c0c0" stroke-width="0.5" />
<text x="527.50" y="106.50" font-size="3.8" text-anchor="end" fill="#000" >2.5</text>
<line x1="528.30" y1="94.30" x2="529.70" y2="94.30" stroke="#c0c0c0" stroke-width="0.5" />
<text x="527.50" y="95.70" font-size="3.8" text-anchor="end" fill="#000" >3</text>
<line x1="542.90" y1="159.10" x2="542.90" y2="160.40" stroke="#b0b0b0" stroke-width="0.5" />
<text x="542.90" y="165.60" font-size="4.0" text-anchor="middle" fill="#000" >-100</text>
<line x1="551.30" y1="159.10" x2="551.30" y2="160.40" stroke="#b0b0b0" stroke-width="0.5" />
<text x="551.30" y="165.60" font-size="4.0" text-anchor="middle" fill="#000" >0</text>
<line x1="559.70" y1="159.10" x2="559.70" y2="160.40" stroke="#b0b0b0" stroke-width="0.5" />
<text x="559.70" y="165.60" font-size="4.0" text-anchor="middle" fill="#000" >100</text>
<line x1="577.90" y1="159.10" x2="577.90" y2="160.40" stroke="#b0b0b0" stroke-width="0.5" />
<text x="577.90" y="165.60" font-size="4.0" text-anchor="middle" fill="#000" >1e3</text>
<line x1="596.40" y1="159.10" x2="596.40" y2="160.40" stroke="#b0b0b0" stroke-width="0.5" />
<text x="596.40" y="165.60" font-size="4.0" text-anchor="middle" fill="#000" >1e4</text>
<text x="563.70" y="170.80" font-size="3.9" text-anchor="middle" fill="#000" >Intensity_MC_Ch11</text>
<text x="519.30" y="126.90" font-size="3.7" text-anchor="middle" fill="#000" transform="rotate(-90 519.30 126.90)">Normalized Frequency</text>
<text x="584.20" y="98.70" font-size="3.6" text-anchor="end" fill="#000" >Unstained control</text>
<line x1="585.70" y1="97.80" x2="595.30" y2="97.80" stroke="#6a6a6a" stroke-width="1.2" />
<text x="584.20" y="102.50" font-size="3.6" text-anchor="end" fill="#000" >CSC-AGS</text>
<line x1="585.70" y1="101.60" x2="595.30" y2="101.60" stroke="#b03c3c" stroke-width="1.2" opacity="0.55"/>
<line x1="545.00" y1="124.50" x2="596.50" y2="124.50" stroke="#f02020" stroke-width="0.6" />
<text x="545.50" y="123.20" font-size="4.0" text-anchor="start" font-weight="bold" fill="#ff1010" >LGR5+</text>
<text x="545.50" y="129.60" font-size="4.6" text-anchor="start" font-weight="bold" fill="#000" stroke="#000" stroke-width="0.2">5.78 %</text>
<rect x="337.70" y="183.60" width="83.20" height="80.30" fill="#000" />
<line x1="348.30" y1="186.90" x2="416.30" y2="186.90" stroke="#888" stroke-width="0.5" />
<line x1="416.30" y1="186.90" x2="416.30" y2="250.80" stroke="#888" stroke-width="0.5" />
<polygon points="349.50,250.80 349.50,250.26 349.92,250.97 350.33,250.52 350.75,249.77 351.17,248.85 351.58,249.40 352.00,249.29 352.40,248.81 352.80,248.75 353.20,248.25 353.60,247.79 354.00,248.27 354.40,248.49 354.80,247.53 355.20,248.55 355.60,247.52 356.00,247.40 356.40,246.98 356.80,248.42 357.20,247.94 357.60,248.11 358.00,247.69 358.40,246.73 358.80,247.13 359.20,247.29 359.60,246.54 360.00,247.72 360.40,246.64 360.80,246.15 361.20,247.10 361.60,245.92 362.00,247.18 362.43,246.25 362.86,245.92 363.29,244.89 363.71,244.34 364.14,243.16 364.57,242.43 365.00,243.59 365.40,241.91 365.80,241.03 366.20,237.95 366.60,237.42 367.00,236.63 367.40,235.45 367.80,232.97 368.20,229.58 368.60,227.32 369.00,225.40 369.40,224.82 369.80,222.38 370.20,217.67 370.60,215.82 371.00,214.62 371.50,211.61 372.00,207.03 372.50,204.92 373.00,203.17 373.50,200.84 374.00,198.22 374.50,198.79 375.00,201.20 375.50,203.35 376.00,206.04 376.50,209.74 377.00,211.99 377.40,213.04 377.80,215.85 378.20,218.10 378.60,221.22 379.00,222.09 379.40,223.15 379.80,224.94 380.20,228.02 380.60,230.80 381.00,232.68 381.43,232.10 381.86,233.47 382.29,234.41 382.71,235.64 383.14,236.99 383.57,239.16 384.00,239.44 384.43,239.05 384.86,240.23 385.29,241.23 385.71,242.69 386.14,243.79 386.57,243.60 387.00,244.78 387.43,244.91 387.86,244.80 388.29,245.97 388.71,246.12 389.14,246.64 389.57,246.92 390.00,248.10 390.43,247.03 390.86,247.09 391.29,248.57 391.71,248.86 392.14,248.69 392.57,249.46 393.00,248.28 393.43,248.70 393.86,249.00 394.29,249.57 394.71,249.57 395.14,249.77 395.57,250.45 396.00,251.44 396.00,250.80" fill="#3cb371" stroke="none" stroke-width="0.6" />
<polyline points="349.50,250.80 395.00,250.80" fill="none" stroke="#fff" stroke-width="0.6" />
<line x1="348.30" y1="186.90" x2="348.30" y2="250.80" stroke="#fff" stroke-width="0.7" />
<line x1="348.30" y1="250.80" x2="416.30" y2="250.80" stroke="#fff" stroke-width="0.7" />
<line x1="347.10" y1="250.80" x2="348.30" y2="250.80" stroke="#fff" stroke-width="0.5" />
<text x="346.30" y="251.90" font-size="3.0" text-anchor="end" fill="#fff" >0</text>
<line x1="347.10" y1="234.83" x2="348.30" y2="234.83" stroke="#fff" stroke-width="0.5" />
<text x="346.30" y="235.93" font-size="3.0" text-anchor="end" fill="#fff" >2</text>
<line x1="347.10" y1="218.85" x2="348.30" y2="218.85" stroke="#fff" stroke-width="0.5" />
<text x="346.30" y="219.95" font-size="3.0" text-anchor="end" fill="#fff" >4</text>
<line x1="347.10" y1="202.88" x2="348.30" y2="202.88" stroke="#fff" stroke-width="0.5" />
<text x="346.30" y="203.97" font-size="3.0" text-anchor="end" fill="#fff" >6</text>
<line x1="347.10" y1="186.90" x2="348.30" y2="186.90" stroke="#fff" stroke-width="0.5" />
<text x="346.30" y="188.00" font-size="3.0" text-anchor="end" fill="#fff" >8</text>
<line x1="348.30" y1="250.80" x2="348.30" y2="252.00" stroke="#fff" stroke-width="0.5" />
<text x="348.30" y="256.80" font-size="3.1" text-anchor="middle" fill="#fff" >0</text>
<line x1="365.20" y1="250.80" x2="365.20" y2="252.00" stroke="#fff" stroke-width="0.5" />
<text x="365.70" y="256.80" font-size="3.1" text-anchor="middle" fill="#fff" >10<tspan dy="-1.1" font-size="2.2">1</tspan></text>
<line x1="382.40" y1="250.80" x2="382.40" y2="252.00" stroke="#fff" stroke-width="0.5" />
<text x="382.90" y="256.80" font-size="3.1" text-anchor="middle" fill="#fff" >10<tspan dy="-1.1" font-size="2.2">2</tspan></text>
<line x1="399.60" y1="250.80" x2="399.60" y2="252.00" stroke="#fff" stroke-width="0.5" />
<text x="400.10" y="256.80" font-size="3.1" text-anchor="middle" fill="#fff" >10<tspan dy="-1.1" font-size="2.2">3</tspan></text>
<line x1="416.30" y1="250.80" x2="416.30" y2="252.00" stroke="#fff" stroke-width="0.5" />
<text x="416.80" y="256.80" font-size="3.1" text-anchor="middle" fill="#fff" >10<tspan dy="-1.1" font-size="2.2">4</tspan></text>
<text x="382.30" y="260.30" font-size="3.6" text-anchor="middle" fill="#fff" >Intensity_MC_Ch02</text>
<text x="342.20" y="218.85" font-size="3.6" text-anchor="middle" fill="#fff" transform="rotate(-90 342.20 218.85)">Count</text>
<text x="406.30" y="190.60" font-size="3.25" text-anchor="end" fill="#fff" >Unstained control</text>
<line x1="407.90" y1="188.90" x2="414.90" y2="188.90" stroke="#fff" stroke-width="0.7" />
<text x="406.30" y="194.10" font-size="3.25" text-anchor="end" fill="#fff" >CSC-KATOIII</text>
<line x1="407.90" y1="193.20" x2="414.90" y2="193.20" stroke="#3cb371" stroke-width="0.9" />
<line x1="382.30" y1="202.10" x2="416.30" y2="202.10" stroke="#c00000" stroke-width="0.7" />
<line x1="382.30" y1="198.70" x2="382.30" y2="205.50" stroke="#c00000" stroke-width="0.7" />
<line x1="416.30" y1="198.70" x2="416.30" y2="205.50" stroke="#c00000" stroke-width="0.7" />
<text x="400.80" y="200.60" font-size="4.4" text-anchor="middle" fill="#ff1010" >CD24+</text>
<text x="400.80" y="206.80" font-size="4.6" text-anchor="middle" font-weight="bold" fill="#fff" >5.62 %</text>
<rect x="425.80" y="183.60" width="83.20" height="80.30" fill="#000" />
<line x1="437.60" y1="186.90" x2="504.40" y2="186.90" stroke="#888" stroke-width="0.5" />
<line x1="504.40" y1="186.90" x2="504.40" y2="250.80" stroke="#888" stroke-width="0.5" />
<polygon points="455.50,250.80 455.50,251.48 455.92,251.36 456.33,250.85 456.75,248.98 457.17,249.22 457.58,248.53 458.00,248.55 458.40,247.81 458.80,247.63 459.20,247.59 459.60,246.67 460.00,246.43 460.40,245.12 460.80,244.66 461.20,245.22 461.60,244.47 462.00,244.52 462.40,244.79 462.80,243.94 463.20,243.07 463.60,243.74 464.00,242.89 464.40,242.46 464.80,241.91 465.20,242.09 465.60,240.87 466.00,241.42 466.40,240.72 466.80,240.83 467.20,240.64 467.60,239.67 468.00,238.84 468.40,238.99 468.80,238.97 469.20,238.43 469.60,237.99 470.00,238.23 470.40,237.44 470.80,237.29 471.20,237.31 471.60,237.81 472.00,236.51 472.40,236.07 472.80,235.77 473.20,235.45 473.60,235.69 474.00,236.12 474.40,236.48 474.80,235.59 475.20,235.48 475.60,235.14 476.00,234.94 476.40,235.46 476.80,234.89 477.20,234.26 477.60,233.91 478.00,234.95 478.42,234.75 478.83,234.73 479.25,233.48 479.67,233.67 480.08,234.05 480.50,233.45 480.92,234.06 481.33,232.94 481.75,234.41 482.17,233.11 482.58,233.82 483.00,233.24 483.40,234.54 483.80,234.49 484.20,235.17 484.60,235.18 485.00,235.72 485.40,235.37 485.80,236.37 486.20,236.21 486.60,235.70 487.00,236.76 487.40,235.86 487.80,235.75 488.20,235.84 488.60,236.81 489.00,236.76 489.40,238.33 489.80,238.71 490.20,237.81 490.60,237.80 491.00,238.55 491.40,238.06 491.80,238.90 492.20,239.72 492.60,239.31 493.00,240.12 493.40,241.43 493.80,241.19 494.20,241.41 494.60,242.54 495.00,242.50 495.40,242.74 495.80,242.73 496.20,242.79 496.60,243.86 497.00,244.78 497.40,245.17 497.80,245.15 498.20,245.74 498.60,246.25 499.00,246.93 499.43,246.80 499.86,247.39 500.29,248.69 500.71,248.50 501.14,250.20 501.57,250.32 502.00,250.89 502.00,250.80" fill="#fff200" stroke="none" stroke-width="0.6" />
<polyline points="438.50,250.80 438.92,250.79 439.33,250.75 439.75,250.70 440.17,250.62 440.58,250.53 441.00,250.43 441.42,250.31 441.83,250.18 442.25,250.05 442.67,249.92 443.08,249.79 443.50,249.68 443.92,249.57 444.33,249.48 444.75,249.40 445.17,249.35 445.58,249.31 446.00,249.30 446.40,249.26 446.80,249.13 447.20,248.93 447.60,248.68 448.00,248.40 448.40,248.12 448.80,247.87 449.20,247.67 449.60,247.54 450.00,247.50 450.43,247.28 450.86,246.65 451.29,245.75 451.71,244.75 452.14,243.85 452.57,243.22 453.00,243.00 453.40,242.24 453.80,240.24 454.20,237.76 454.60,235.76 455.00,235.00 455.40,233.76 455.80,230.51 456.20,226.49 456.60,223.24 457.00,222.00 457.40,220.57 457.80,216.82 458.20,212.18 458.60,208.43 459.00,207.00 459.45,205.74 459.90,202.70 460.35,199.66 460.80,198.40 461.23,199.37 461.65,201.70 462.07,204.03 462.50,205.00 463.00,208.75 463.50,216.25 464.00,220.00 464.40,221.62 464.80,225.87 465.20,231.13 465.60,235.38 466.00,237.00 466.40,237.76 466.80,239.76 467.20,242.24 467.60,244.24 468.00,245.00 468.40,245.24 468.80,245.86 469.20,246.64 469.60,247.26 470.00,247.50 470.40,247.49 470.80,247.48 471.20,247.45 471.60,247.42 472.00,247.38 472.40,247.33 472.80,247.28 473.20,247.22 473.60,247.17 474.00,247.12 474.40,247.08 474.80,247.05 475.20,247.02 475.60,247.01 476.00,247.00 476.40,246.99 476.80,246.95 477.20,246.90 477.60,246.83 478.00,246.75 478.40,246.67 478.80,246.60 479.20,246.55 479.60,246.51 480.00,246.50 480.40,246.54 480.80,246.64 481.20,246.81 481.60,247.02 482.00,247.25 482.40,247.48 482.80,247.69 483.20,247.86 483.60,247.96 484.00,248.00 484.40,248.03 484.80,248.12 485.20,248.27 485.60,248.45 486.00,248.65 486.40,248.85 486.80,249.03 487.20,249.18 487.60,249.27 488.00,249.30 488.41,249.31 488.82,249.35 489.24,249.41 489.65,249.50 490.06,249.60 490.47,249.72 490.88,249.84 491.29,249.98 491.71,250.12 492.12,250.26 492.53,250.38 492.94,250.50 493.35,250.60 493.76,250.69 494.18,250.75 494.59,250.79 495.00,250.80" fill="none" stroke="#fff" stroke-width="0.6" />
<line x1="437.60" y1="186.90" x2="437.60" y2="250.80" stroke="#fff" stroke-width="0.7" />
<line x1="437.60" y1="250.80" x2="504.40" y2="250.80" stroke="#fff" stroke-width="0.7" />
<line x1="436.40" y1="250.80" x2="437.60" y2="250.80" stroke="#fff" stroke-width="0.5" />
<text x="435.60" y="251.90" font-size="3.0" text-anchor="end" fill="#fff" >0</text>
<line x1="436.40" y1="234.83" x2="437.60" y2="234.83" stroke="#fff" stroke-width="0.5" />
<text x="435.60" y="235.93" font-size="3.0" text-anchor="end" fill="#fff" >5</text>
<line x1="436.40" y1="218.85" x2="437.60" y2="218.85" stroke="#fff" stroke-width="0.5" />
<text x="435.60" y="219.95" font-size="3.0" text-anchor="end" fill="#fff" >10</text>
<line x1="436.40" y1="202.88" x2="437.60" y2="202.88" stroke="#fff" stroke-width="0.5" />
<text x="435.60" y="203.97" font-size="3.0" text-anchor="end" fill="#fff" >15</text>
<line x1="436.40" y1="186.90" x2="437.60" y2="186.90" stroke="#fff" stroke-width="0.5" />
<text x="435.60" y="188.00" font-size="3.0" text-anchor="end" fill="#fff" >20</text>
<line x1="437.60" y1="250.80" x2="437.60" y2="252.00" stroke="#fff" stroke-width="0.5" />
<text x="437.60" y="256.80" font-size="3.1" text-anchor="middle" fill="#fff" >0</text>
<line x1="453.40" y1="250.80" x2="453.40" y2="252.00" stroke="#fff" stroke-width="0.5" />
<text x="453.90" y="256.80" font-size="3.1" text-anchor="middle" fill="#fff" >10<tspan dy="-1.1" font-size="2.2">1</tspan></text>
<line x1="470.60" y1="250.80" x2="470.60" y2="252.00" stroke="#fff" stroke-width="0.5" />
<text x="471.10" y="256.80" font-size="3.1" text-anchor="middle" fill="#fff" >10<tspan dy="-1.1" font-size="2.2">2</tspan></text>
<line x1="487.20" y1="250.80" x2="487.20" y2="252.00" stroke="#fff" stroke-width="0.5" />
<text x="487.70" y="256.80" font-size="3.1" text-anchor="middle" fill="#fff" >10<tspan dy="-1.1" font-size="2.2">3</tspan></text>
<line x1="504.00" y1="250.80" x2="504.00" y2="252.00" stroke="#fff" stroke-width="0.5" />
<text x="504.50" y="256.80" font-size="3.1" text-anchor="middle" fill="#fff" >10<tspan dy="-1.1" font-size="2.2">4</tspan></text>
<text x="471.00" y="260.30" font-size="3.6" text-anchor="middle" fill="#fff" >Intensity_MC_Ch03</text>
<text x="430.30" y="218.85" font-size="3.6" text-anchor="middle" fill="#fff" transform="rotate(-90 430.30 218.85)">Count</text>
<text x="494.40" y="190.60" font-size="3.25" text-anchor="end" fill="#fff" >Unstained control</text>
<line x1="496.00" y1="188.90" x2="503.00" y2="188.90" stroke="#fff" stroke-width="0.7" />
<text x="494.40" y="194.10" font-size="3.25" text-anchor="end" fill="#fff" >CSC-KATOIII</text>
<line x1="496.00" y1="193.20" x2="503.00" y2="193.20" stroke="#fff200" stroke-width="0.9" />
<line x1="472.70" y1="201.70" x2="504.40" y2="201.70" stroke="#c00000" stroke-width="0.7" />
<line x1="472.70" y1="198.30" x2="472.70" y2="205.10" stroke="#c00000" stroke-width="0.7" />
<line x1="504.40" y1="198.30" x2="504.40" y2="205.10" stroke="#c00000" stroke-width="0.7" />
<text x="490.05" y="200.20" font-size="4.4" text-anchor="middle" fill="#ff1010" >CD44+</text>
<text x="490.05" y="206.40" font-size="4.6" text-anchor="middle" font-weight="bold" fill="#fff" >73.20 %</text>
<rect x="513.00" y="183.60" width="83.20" height="80.30" fill="#000" />
<line x1="524.30" y1="186.90" x2="591.80" y2="186.90" stroke="#888" stroke-width="0.5" />
<line x1="591.80" y1="186.90" x2="591.80" y2="250.80" stroke="#888" stroke-width="0.5" />
<polygon points="548.30,250.80 548.30,250.68 548.73,250.70 549.17,249.17 549.60,246.56 550.03,245.25 550.47,243.57 550.90,242.44 551.36,242.18 551.82,238.41 552.28,234.66 552.74,231.70 553.20,230.69 553.64,229.16 554.08,226.95 554.52,223.67 554.96,220.57 555.40,219.79 555.85,218.48 556.30,215.92 556.75,212.52 557.20,211.56 557.60,211.18 558.00,209.54 558.40,208.84 558.80,207.22 559.20,206.20 559.64,207.27 560.08,208.66 560.52,210.35 560.96,211.87 561.40,212.76 561.85,214.00 562.30,218.41 562.75,222.29 563.20,223.53 563.64,225.34 564.08,227.28 564.52,230.84 564.96,234.26 565.40,234.72 565.84,235.68 566.28,237.79 566.72,240.11 567.16,242.14 567.60,242.90 568.02,243.08 568.45,243.20 568.88,244.79 569.30,245.23 569.73,245.97 570.15,247.16 570.58,248.12 571.00,248.13 571.44,248.03 571.88,248.25 572.32,248.30 572.76,249.09 573.20,249.25 573.64,249.40 574.08,249.85 574.52,250.13 574.96,250.92 575.40,251.18 575.40,250.80" fill="#ff0000" stroke="none" stroke-width="0.6" />
<polyline points="524.50,250.80 524.90,250.47 525.30,249.59 525.70,248.51 526.10,247.63 526.50,247.30 526.91,247.26 527.33,247.13 527.74,246.93 528.15,246.66 528.56,246.32 528.98,245.94 529.39,245.53 529.80,245.10 530.21,244.67 530.62,244.26 531.04,243.88 531.45,243.54 531.86,243.27 532.27,243.07 532.69,242.94 533.10,242.90 533.50,242.77 533.90,242.40 534.30,241.80 534.70,241.00 535.10,240.04 535.50,238.97 535.90,237.85 536.30,236.73 536.70,235.66 537.10,234.70 537.50,233.90 537.90,233.30 538.30,232.93 538.70,232.80 539.14,232.58 539.58,231.95 540.02,230.97 540.46,229.73 540.90,228.35 541.34,226.97 541.78,225.73 542.22,224.75 542.66,224.12 543.10,223.90 543.52,223.65 543.95,222.93 544.38,221.86 544.80,220.60 545.23,219.34 545.65,218.27 546.08,217.55 546.50,217.30 546.95,218.11 547.40,220.05 547.85,221.99 548.30,222.80 548.80,225.60 549.30,231.20 549.80,234.00 550.24,235.06 550.68,237.83 551.12,241.27 551.56,244.04 552.00,245.10 552.42,245.23 552.85,245.58 553.27,246.12 553.70,246.75 554.12,247.38 554.55,247.92 554.98,248.27 555.40,248.40 555.80,248.39 556.20,248.35 556.60,248.28 557.00,248.19 557.40,248.09 557.80,247.97 558.20,247.85 558.60,247.73 559.00,247.61 559.40,247.51 559.80,247.42 560.20,247.35 560.60,247.31 561.00,247.30 561.41,247.26 561.83,247.14 562.24,246.96 562.65,246.75 563.06,246.54 563.47,246.36 563.89,246.24 564.30,246.20 564.70,246.24 565.10,246.34 565.50,246.51 565.90,246.73 566.30,246.97 566.70,247.23 567.10,247.47 567.50,247.69 567.90,247.86 568.30,247.96 568.70,248.00 569.12,248.03 569.54,248.11 569.96,248.24 570.38,248.41 570.79,248.62 571.21,248.86 571.63,249.13 572.05,249.40 572.47,249.67 572.89,249.94 573.31,250.18 573.73,250.39 574.14,250.56 574.56,250.69 574.98,250.77 575.40,250.80" fill="none" stroke="#fff" stroke-width="0.6" />
<line x1="524.30" y1="186.90" x2="524.30" y2="250.80" stroke="#fff" stroke-width="0.7" />
<line x1="524.30" y1="250.80" x2="591.80" y2="250.80" stroke="#fff" stroke-width="0.7" />
<line x1="523.10" y1="250.80" x2="524.30" y2="250.80" stroke="#fff" stroke-width="0.5" />
<text x="522.30" y="251.90" font-size="3.0" text-anchor="end" fill="#fff" >0</text>
<line x1="523.10" y1="234.83" x2="524.30" y2="234.83" stroke="#fff" stroke-width="0.5" />
<text x="522.30" y="235.93" font-size="3.0" text-anchor="end" fill="#fff" >5</text>
<line x1="523.10" y1="218.85" x2="524.30" y2="218.85" stroke="#fff" stroke-width="0.5" />
<text x="522.30" y="219.95" font-size="3.0" text-anchor="end" fill="#fff" >10</text>
<line x1="523.10" y1="202.88" x2="524.30" y2="202.88" stroke="#fff" stroke-width="0.5" />
<text x="522.30" y="203.97" font-size="3.0" text-anchor="end" fill="#fff" >15</text>
<line x1="523.10" y1="186.90" x2="524.30" y2="186.90" stroke="#fff" stroke-width="0.5" />
<text x="522.30" y="188.00" font-size="3.0" text-anchor="end" fill="#fff" >20</text>
<line x1="524.80" y1="250.80" x2="524.80" y2="252.00" stroke="#fff" stroke-width="0.5" />
<text x="524.80" y="256.80" font-size="3.1" text-anchor="middle" fill="#fff" >0</text>
<line x1="531.60" y1="250.80" x2="531.60" y2="252.00" stroke="#fff" stroke-width="0.5" />
<text x="532.10" y="256.80" font-size="3.1" text-anchor="middle" fill="#fff" >10<tspan dy="-1.1" font-size="2.2">1</tspan></text>
<line x1="545.10" y1="250.80" x2="545.10" y2="252.00" stroke="#fff" stroke-width="0.5" />
<text x="545.60" y="256.80" font-size="3.1" text-anchor="middle" fill="#fff" >10<tspan dy="-1.1" font-size="2.2">2</tspan></text>
<line x1="560.50" y1="250.80" x2="560.50" y2="252.00" stroke="#fff" stroke-width="0.5" />
<text x="561.00" y="256.80" font-size="3.1" text-anchor="middle" fill="#fff" >10<tspan dy="-1.1" font-size="2.2">3</tspan></text>
<line x1="575.80" y1="250.80" x2="575.80" y2="252.00" stroke="#fff" stroke-width="0.5" />
<text x="576.30" y="256.80" font-size="3.1" text-anchor="middle" fill="#fff" >10<tspan dy="-1.1" font-size="2.2">4</tspan></text>
<line x1="591.10" y1="250.80" x2="591.10" y2="252.00" stroke="#fff" stroke-width="0.5" />
<text x="591.60" y="256.80" font-size="3.1" text-anchor="middle" fill="#fff" >10<tspan dy="-1.1" font-size="2.2">5</tspan></text>
<text x="558.05" y="260.30" font-size="3.6" text-anchor="middle" fill="#fff" >Intensity_MC_Ch11</text>
<text x="517.50" y="218.85" font-size="3.6" text-anchor="middle" fill="#fff" transform="rotate(-90 517.50 218.85)">Count</text>
<text x="581.80" y="190.60" font-size="3.25" text-anchor="end" fill="#fff" >Unstained control</text>
<line x1="583.40" y1="188.90" x2="590.40" y2="188.90" stroke="#fff" stroke-width="0.7" />
<text x="581.80" y="194.10" font-size="3.25" text-anchor="end" fill="#fff" >CSC-KATOIII</text>
<line x1="583.40" y1="193.20" x2="590.40" y2="193.20" stroke="#ff0000" stroke-width="0.9" />
<line x1="557.70" y1="200.50" x2="591.80" y2="200.50" stroke="#c00000" stroke-width="0.7" />
<line x1="557.70" y1="197.10" x2="557.70" y2="203.90" stroke="#c00000" stroke-width="0.7" />
<line x1="591.80" y1="197.10" x2="591.80" y2="203.90" stroke="#c00000" stroke-width="0.7" />
<text x="576.25" y="199.00" font-size="4.4" text-anchor="middle" fill="#ff1010" >CD133+</text>
<text x="576.25" y="205.20" font-size="4.6" text-anchor="middle" font-weight="bold" fill="#fff" >43.48 %</text>
<rect x="600.60" y="183.60" width="82.60" height="80.30" fill="#000" />
<line x1="612.40" y1="186.90" x2="679.30" y2="186.90" stroke="#888" stroke-width="0.5" />
<line x1="679.30" y1="186.90" x2="679.30" y2="251.90" stroke="#888" stroke-width="0.5" />
<polygon points="629.30,251.90 629.30,252.11 629.70,252.14 630.10,252.38 630.50,251.13 630.90,250.68 631.30,251.43 631.70,250.37 632.10,250.01 632.50,250.19 632.90,248.86 633.30,249.42 633.70,248.40 634.10,247.40 634.50,248.21 634.90,247.41 635.30,246.46 635.70,247.33 636.10,247.12 636.50,247.04 636.90,246.66 637.30,246.40 637.70,243.89 638.10,243.85 638.50,241.91 638.90,239.98 639.30,239.35 639.70,238.23 640.10,238.41 640.52,237.68 640.93,235.23 641.35,231.64 641.77,229.05 642.18,226.73 642.60,226.55 643.08,225.42 643.56,221.58 644.04,216.75 644.52,212.62 645.00,211.99 645.42,209.95 645.85,207.55 646.28,202.96 646.70,202.66 647.18,200.62 647.65,199.99 648.12,197.69 648.60,197.30 649.08,198.15 649.55,200.58 650.02,203.34 650.50,204.94 650.91,204.77 651.33,206.11 651.74,208.63 652.16,209.92 652.57,212.09 652.99,213.65 653.40,214.12 653.80,213.93 654.20,215.60 654.60,216.51 655.00,217.54 655.40,219.57 655.80,220.76 656.20,222.45 656.60,222.97 657.00,223.46 657.40,224.06 657.80,224.77 658.20,225.02 658.60,226.23 659.00,227.34 659.40,228.42 659.80,229.67 660.20,229.22 660.60,230.18 661.01,230.13 661.42,231.33 661.83,232.16 662.24,232.58 662.66,234.11 663.07,236.52 663.48,236.93 663.89,238.11 664.30,237.64 664.70,238.39 665.10,238.48 665.50,239.04 665.90,239.03 666.30,241.01 666.70,241.73 667.10,242.38 667.50,242.94 667.90,243.02 668.30,243.46 668.70,244.67 669.10,244.06 669.54,244.21 669.97,245.12 670.41,244.70 670.85,246.04 671.28,245.40 671.72,246.85 672.15,246.56 672.59,246.77 673.03,247.56 673.46,248.28 673.90,247.34 674.30,248.07 674.70,248.56 675.10,247.59 675.50,248.49 675.90,248.53 676.30,249.05 676.70,249.87 677.10,249.61 677.50,249.67 677.90,249.72 678.30,250.70 678.70,249.81 679.30,252.20 679.30,251.90" fill="#ffa000" stroke="none" stroke-width="0.6" />
<polyline points="612.40,251.90 612.80,251.88 613.20,251.84 613.60,251.76 614.00,251.65 614.40,251.52 614.80,251.38 615.20,251.21 615.60,251.03 616.00,250.85 616.40,250.67 616.80,250.49 617.20,250.33 617.60,250.18 618.00,250.05 618.40,249.94 618.80,249.86 619.20,249.82 619.60,249.80 620.01,249.78 620.41,249.72 620.82,249.62 621.23,249.49 621.63,249.33 622.04,249.14 622.45,248.95 622.85,248.75 623.26,248.56 623.67,248.38 624.07,248.21 624.48,248.08 624.89,247.98 625.29,247.92 625.70,247.90 626.14,247.88 626.57,247.80 627.01,247.69 627.45,247.55 627.88,247.39 628.32,247.21 628.75,247.05 629.19,246.91 629.63,246.80 630.06,246.72 630.50,246.70 630.90,246.77 631.30,246.97 631.70,247.27 632.10,247.65 632.50,248.05 632.90,248.42 633.30,248.73 633.70,248.93 634.10,249.00 634.52,249.04 634.94,249.14 635.36,249.32 635.79,249.55 636.21,249.82 636.63,250.13 637.05,250.45 637.47,250.77 637.89,251.08 638.31,251.35 638.74,251.58 639.16,251.76 639.58,251.86 640.00,251.90" fill="none" stroke="#fff" stroke-width="0.6" />
<line x1="612.40" y1="186.90" x2="612.40" y2="251.90" stroke="#fff" stroke-width="0.7" />
<line x1="612.40" y1="251.90" x2="679.30" y2="251.90" stroke="#fff" stroke-width="0.7" />
<line x1="611.20" y1="251.90" x2="612.40" y2="251.90" stroke="#fff" stroke-width="0.5" />
<text x="610.40" y="253.00" font-size="3.0" text-anchor="end" fill="#fff" >0</text>
<line x1="611.20" y1="235.65" x2="612.40" y2="235.65" stroke="#fff" stroke-width="0.5" />
<text x="610.40" y="236.75" font-size="3.0" text-anchor="end" fill="#fff" >50</text>
<line x1="611.20" y1="219.40" x2="612.40" y2="219.40" stroke="#fff" stroke-width="0.5" />
<text x="610.40" y="220.50" font-size="3.0" text-anchor="end" fill="#fff" >100</text>
<line x1="611.20" y1="203.15" x2="612.40" y2="203.15" stroke="#fff" stroke-width="0.5" />
<text x="610.40" y="204.25" font-size="3.0" text-anchor="end" fill="#fff" >150</text>
<line x1="611.20" y1="186.90" x2="612.40" y2="186.90" stroke="#fff" stroke-width="0.5" />
<text x="610.40" y="188.00" font-size="3.0" text-anchor="end" fill="#fff" >200</text>
<line x1="612.40" y1="251.90" x2="612.40" y2="253.10" stroke="#fff" stroke-width="0.5" />
<text x="612.40" y="257.90" font-size="3.1" text-anchor="middle" fill="#fff" >0</text>
<line x1="628.60" y1="251.90" x2="628.60" y2="253.10" stroke="#fff" stroke-width="0.5" />
<text x="629.10" y="257.90" font-size="3.1" text-anchor="middle" fill="#fff" >10<tspan dy="-1.1" font-size="2.2">1</tspan></text>
<line x1="645.20" y1="251.90" x2="645.20" y2="253.10" stroke="#fff" stroke-width="0.5" />
<text x="645.70" y="257.90" font-size="3.1" text-anchor="middle" fill="#fff" >10<tspan dy="-1.1" font-size="2.2">2</tspan></text>
<line x1="661.80" y1="251.90" x2="661.80" y2="253.10" stroke="#fff" stroke-width="0.5" />
<text x="662.30" y="257.90" font-size="3.1" text-anchor="middle" fill="#fff" >10<tspan dy="-1.1" font-size="2.2">3</tspan></text>
<line x1="678.40" y1="251.90" x2="678.40" y2="253.10" stroke="#fff" stroke-width="0.5" />
<text x="678.90" y="257.90" font-size="3.1" text-anchor="middle" fill="#fff" >10<tspan dy="-1.1" font-size="2.2">4</tspan></text>
<text x="645.85" y="261.40" font-size="3.6" text-anchor="middle" fill="#fff" >Intensity_MC_Ch03</text>
<text x="605.10" y="219.40" font-size="3.6" text-anchor="middle" fill="#fff" transform="rotate(-90 605.10 219.40)">Count</text>
<text x="669.30" y="190.60" font-size="3.25" text-anchor="end" fill="#fff" >Unstained control</text>
<line x1="670.90" y1="188.90" x2="677.90" y2="188.90" stroke="#fff" stroke-width="0.7" />
<text x="669.30" y="194.10" font-size="3.25" text-anchor="end" fill="#fff" >CSC-KATOIII</text>
<line x1="670.90" y1="193.20" x2="677.90" y2="193.20" stroke="#ffa000" stroke-width="0.9" />
<line x1="645.70" y1="200.90" x2="679.30" y2="200.90" stroke="#c00000" stroke-width="0.7" />
<line x1="645.70" y1="197.50" x2="645.70" y2="204.30" stroke="#c00000" stroke-width="0.7" />
<line x1="679.30" y1="197.50" x2="679.30" y2="204.30" stroke="#c00000" stroke-width="0.7" />
<text x="664.00" y="199.40" font-size="4.4" text-anchor="middle" fill="#ff1010" >EpCAM+</text>
<text x="664.00" y="205.60" font-size="4.6" text-anchor="middle" font-weight="bold" fill="#fff" >74.22 %</text>
</svg>
</body></html>
